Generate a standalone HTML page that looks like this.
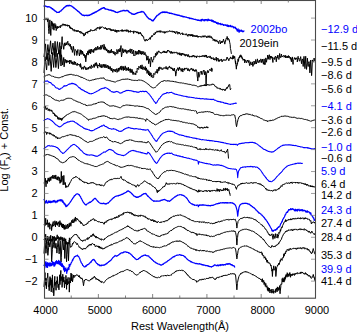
<!DOCTYPE html>
<html><head><meta charset="utf-8"><style>html,body{margin:0;padding:0;background:#fff;width:357px;height:332px;overflow:hidden}</style></head>
<body><svg width="357" height="332" viewBox="0 0 357 332" style="position:absolute;left:0;top:0">
<rect width="357" height="332" fill="#fff"/>
<g fill="none" stroke-linejoin="round" stroke-linecap="round">
<polyline points="44.00,6.05 44.72,5.80 45.58,6.24 45.68,6.02 46.44,6.60 47.36,6.60 47.55,7.01 48.83,6.63 49.04,6.90 49.80,6.93 50.72,7.91 51.06,7.72 52.35,9.00 52.40,8.57 53.63,9.94 54.08,9.98 54.54,10.57 55.38,11.11 55.76,11.47 56.21,11.68 57.03,12.45 57.45,12.37 57.85,12.41 58.93,12.12 59.13,12.40 60.17,11.16 60.81,11.16 61.37,10.29 62.36,9.46 62.49,9.17 63.45,8.44 64.17,7.52 64.63,7.35 65.38,6.53 65.85,6.56 66.48,5.73 67.53,5.74 67.72,5.47 68.89,5.75 69.21,5.30 70.04,5.67 70.89,5.71 71.03,5.93 71.84,6.17 72.57,6.90 73.01,7.03 73.91,7.97 74.00,7.86 74.25,8.16 74.77,8.46 75.72,9.38 75.93,9.40 76.88,10.27 77.61,10.85 77.67,11.05 78.66,11.62 79.29,12.45 79.38,12.17 80.48,13.57 80.97,13.61 81.64,14.62 82.66,15.03 82.69,15.25 83.91,15.26 84.34,15.68 84.80,15.31 85.92,15.38 86.02,15.12 86.97,15.61 87.70,15.24 88.02,15.62 89.00,15.02 89.38,15.41 90.20,14.68 91.06,14.47 91.47,13.96 92.45,13.88 92.74,13.25 93.55,13.33 94.29,12.53 94.42,12.92 95.41,11.94 96.10,12.01 96.50,11.51 97.78,10.94 97.79,10.88 98.98,10.21 99.46,9.72 99.86,9.80 100.79,8.82 101.14,8.96 101.89,8.28 102.60,8.38 103.58,7.62 104.00,7.56 104.38,7.80 105.04,9.00 105.15,8.65 105.89,9.18 106.72,9.08 107.05,9.36 107.82,9.39 108.40,9.84 108.67,9.78 109.61,10.08 110.08,9.91 110.83,10.31 111.58,10.20 111.76,10.76 112.55,10.53 113.45,11.06 113.58,10.87 114.81,11.84 115.13,11.58 116.00,12.42 116.81,12.45 117.22,12.51 118.08,12.19 118.49,12.19 119.03,11.70 119.95,11.62 120.17,11.29 121.18,11.13 121.85,10.91 122.45,10.84 123.25,10.34 123.53,10.66 124.05,10.41 124.89,10.93 125.21,10.80 125.73,10.93 126.72,10.36 126.89,10.46 127.77,10.73 128.57,11.50 128.63,11.23 129.33,12.29 130.25,12.60 130.28,12.79 131.21,13.07 131.93,14.12 132.25,13.77 133.52,14.35 133.61,14.23 134.63,14.31 135.29,13.73 135.64,13.85 136.71,13.18 136.97,13.29 137.82,12.62 138.55,12.68 138.66,12.40 139.79,12.44 140.34,11.88 140.96,12.10 142.02,11.37 142.18,11.81 143.36,11.85 143.70,12.11 144.30,12.88 145.24,14.27 145.38,14.18 146.00,15.32 147.06,16.77 147.08,16.95 147.82,17.49 148.56,18.60 148.74,18.49 149.38,19.07 150.18,19.00 150.42,19.37 151.08,19.57 151.82,20.55 152.10,20.28 152.52,20.85 152.94,20.92 153.31,20.64 153.78,19.59 154.07,19.67 154.99,18.18 155.46,17.80 155.70,17.27 156.93,15.76 157.14,15.44 157.99,15.16 158.78,14.24 158.82,14.61 159.63,13.65 160.00,13.54 160.54,12.88 161.04,12.67 161.46,12.39 162.24,12.58 162.72,11.88 163.44,12.39 164.40,11.95 164.74,12.45 165.72,12.00 166.08,12.46 166.71,12.22 167.46,12.56 167.76,12.43 168.22,12.90 169.13,12.83 169.45,13.33 169.99,13.15 171.13,13.46 171.19,13.23 171.98,13.66 172.69,13.64 172.81,13.90 173.97,14.06 174.49,14.54 174.98,14.20 175.77,14.76 176.17,14.63 176.80,15.02 177.51,14.92 177.85,15.26 178.53,15.22 179.53,15.52 179.82,15.50 181.03,16.23 181.21,15.84 182.15,16.33 182.89,16.25 183.01,16.84 183.93,16.57 184.57,16.86 184.73,16.79 185.89,17.10 186.25,17.06 186.91,17.37 187.93,17.59 188.08,17.78 188.98,17.82 189.61,18.46 189.81,18.01 191.00,18.57 191.29,18.39 192.29,18.87 192.97,18.73 193.50,19.10 194.66,19.31 194.68,19.43 195.88,19.46 196.34,19.88 197.02,19.85 197.85,20.36 198.02,19.96 198.87,20.41 199.70,20.44 199.78,20.57 200.00,20.19 200.81,20.68 201.38,19.57 201.52,20.90 202.50,19.39 203.06,19.85 203.17,19.83 204.09,20.68 204.74,19.60 204.91,20.56 205.57,19.63 206.42,19.83 206.48,19.59 207.13,20.67 207.99,19.31 208.10,20.60 208.66,19.33 209.34,20.30 209.78,20.10 210.20,20.39 211.28,20.14 211.46,21.12 211.97,20.06 212.72,21.53 213.14,20.60 213.69,21.97 214.82,21.56 214.83,22.35 215.78,22.18 216.62,23.23 217.04,22.54 217.78,23.88 218.43,22.98 218.72,23.80 219.53,23.61 220.31,24.07 220.40,23.46 221.02,24.68 221.71,24.19 222.08,24.43 222.51,24.17 223.58,25.34 223.76,24.63 224.31,25.18 225.25,24.79 225.45,25.22 226.23,25.18 227.06,25.95 227.13,24.94 227.98,26.38 228.65,25.45 228.81,26.48 229.31,25.90 230.05,26.27 230.49,25.45 231.05,26.85 231.91,26.28 232.17,26.57 232.71,26.46 233.66,27.76 233.85,26.96 234.53,27.66 235.32,27.25 235.53,28.56 236.37,28.43 236.38,28.64 237.21,30.88 237.39,31.11 238.05,28.98 238.15,29.89 238.89,31.43 239.09,32.20 239.73,29.93 240.00,30.88 240.57,30.99 241.11,31.23 241.41,30.07 242.13,31.23 242.25,30.95 242.92,31.78 243.93,30.91" stroke="#0000ff" stroke-width="1.35"/>
<polyline points="44.00,19.32 44.90,17.91 45.29,18.92 45.81,19.72 46.28,19.54 46.71,18.35 47.16,19.07 47.56,21.36 47.61,21.78 48.07,18.57 48.52,28.36 48.81,31.36 48.97,33.71 49.42,27.86 49.61,24.92 49.87,19.87 50.32,28.10 50.78,35.27 50.78,35.46 51.23,26.21 51.68,20.95 52.04,25.05 52.13,26.27 52.58,22.58 52.78,25.69 53.03,29.25 53.49,23.68 53.69,26.31 53.94,30.21 54.39,24.33 54.84,23.85 54.84,23.42 55.29,28.08 55.64,25.20 55.74,24.61 56.20,30.59 56.65,28.19 56.88,26.98 57.00,27.51 57.10,26.02 57.55,28.54 58.14,26.76 58.45,28.02 59.04,26.23 59.36,26.26 59.77,26.24 60.26,27.93 60.52,25.49 61.16,26.27 61.38,25.49 62.07,26.14 62.37,24.01 62.97,24.30 63.51,23.99 63.87,25.46 64.22,24.06 65.06,25.62 65.68,24.30 65.81,25.80 66.96,24.99 67.49,26.30 67.67,24.75 68.33,25.94 68.39,25.10 68.99,26.24 69.29,25.38 69.83,28.18 70.20,26.73 70.95,28.99 71.10,27.67 72.00,29.16 72.05,28.10 73.08,30.43 73.99,29.33 74.25,31.33 74.25,29.89 75.38,30.47 75.93,29.96 76.19,31.82 76.92,30.18 77.61,31.70 78.06,30.23 79.09,31.91 79.29,31.08 79.73,32.62 80.72,31.32 80.97,33.47 81.56,31.90 82.39,33.68 82.66,32.91 83.20,34.29 83.50,33.51 83.92,36.11 84.34,34.80 84.55,35.38 85.18,33.12 85.33,34.69 86.02,32.12 86.15,32.91 87.30,31.61 87.70,33.35 88.00,31.52 89.15,31.51 89.38,30.75 89.89,31.96 90.71,29.48 91.06,30.50 91.78,30.22 92.74,30.98 92.86,30.17 93.72,31.03 94.38,29.75 94.42,30.44 95.27,29.20 96.10,30.47 96.10,28.09 97.22,28.62 97.78,27.16 97.96,28.35 98.78,27.50 99.46,29.31 99.90,26.71 100.54,28.58 101.14,26.74 101.40,27.59 102.47,26.75 103.51,27.82 104.00,27.50 104.16,28.43 104.81,28.08 105.04,28.87 105.47,27.44 106.60,29.66 106.72,28.01 107.37,29.71 108.40,28.39 108.40,29.13 109.52,28.57 110.08,30.06 110.33,28.63 111.11,31.07 111.76,29.27 112.25,30.81 113.22,29.34 113.45,30.93 113.99,30.11 115.01,31.72 115.13,29.60 115.81,32.03 116.59,30.24 116.81,32.46 117.22,30.21 118.26,31.68 118.49,30.08 119.38,31.36 120.17,30.39 120.35,31.16 121.49,29.96 121.85,31.50 122.14,29.51 122.89,31.47 123.53,30.31 123.78,31.22 124.93,29.80 125.21,31.25 126.07,29.97 126.89,31.67 126.91,29.55 127.67,31.12 128.54,30.35 128.57,32.34 129.43,30.92 130.25,32.38 130.56,30.51 131.29,31.66 131.93,30.99 132.36,31.94 133.39,31.01 133.61,33.44 134.46,31.18 135.29,31.76 135.51,31.04 136.47,32.93 136.97,31.47 137.27,33.18 138.07,31.88 138.66,34.10 138.90,32.26 139.95,33.82 140.34,32.22 140.62,33.96 141.36,33.74 142.02,35.92 142.40,35.01 143.16,37.21 143.70,36.71 143.83,38.77 144.47,40.08 144.54,40.78 145.38,40.73 145.40,41.15 146.21,39.04 146.22,40.17 147.06,39.55 147.37,40.74 148.48,39.33 148.74,39.85 149.64,37.77 150.41,39.33 150.42,37.22 151.09,37.50 151.77,35.57 152.10,36.76 152.67,35.33 153.68,34.76 153.78,33.58 154.55,34.98 155.31,32.21 155.46,33.52 156.16,31.79 157.13,32.30 157.14,30.85 158.12,32.21 159.16,30.62 160.00,32.40 160.78,30.55 161.04,32.35 162.04,31.27 162.72,32.47 163.33,31.58 164.32,33.25 164.40,31.54 165.05,33.16 166.08,31.30 166.31,32.20 167.24,31.31 167.76,32.28 168.48,31.32 169.45,31.43 169.55,30.60 170.75,31.62 171.13,30.82 171.54,31.70 172.71,31.03 172.81,32.28 173.55,31.03 174.49,32.99 174.49,31.53 175.70,33.66 176.17,31.31 176.90,32.58 177.71,31.80 177.85,34.22 178.54,32.10 179.48,33.49 179.53,32.35 180.49,34.48 181.21,33.60 181.42,33.67 182.19,32.74 182.89,35.00 183.04,33.71 184.17,34.50 184.57,34.29 185.41,34.83 186.14,33.58 186.25,35.01 187.17,34.56 187.93,36.40 188.33,34.15 189.05,35.45 189.61,34.30 190.25,36.14 191.03,34.14 191.29,36.03 192.09,34.27 192.97,36.89 193.12,34.73 194.19,36.31 194.66,35.36 195.07,36.98 196.03,35.30 196.34,36.84 197.08,35.37 198.02,37.53 198.03,36.34 199.13,36.68 199.70,35.98 200.10,37.04 201.06,36.48 201.38,37.39 201.77,36.36 202.84,36.99 203.06,35.58 203.84,37.23 204.68,35.65 204.74,36.65 205.84,35.92 206.42,37.72 207.00,36.23 207.98,37.73 208.10,35.70 208.79,37.03 209.77,35.67 209.78,37.67 210.54,36.58 211.31,38.23 211.46,36.60 212.27,38.41 213.03,38.66 213.14,40.59 213.99,39.05 214.82,41.20 215.00,39.55 215.72,41.37 216.80,39.87 217.04,41.81 217.55,41.00 218.69,43.67 218.72,41.86 219.56,40.58 219.86,40.26 220.40,43.99 220.87,41.94 221.24,42.56 221.60,41.21 222.08,42.90 222.60,41.04 222.92,41.56 223.53,39.05 223.76,40.52 224.61,43.08 224.80,44.15 225.45,40.43 225.58,41.28 226.29,38.06 226.79,38.66 227.13,36.43 227.97,40.25 228.09,38.19 228.81,38.89 229.23,39.71 229.65,42.20 230.15,44.43 230.42,48.46 230.82,50.09 231.33,53.50" stroke="#000000" stroke-width="1.0"/>
<polyline points="44.00,56.61 45.55,43.88 46.47,59.55 47.88,44.54 48.98,55.10 50.59,40.81 51.48,53.99 52.96,43.06 54.09,55.34 55.07,41.29 55.94,56.84 57.44,41.68 58.71,54.18 59.73,42.33 60.93,57.19 61.00,46.26 61.50,49.02 62.13,36.67 62.24,43.88 62.80,43.63 63.73,49.34 64.48,42.86 65.00,45.90 66.16,42.55 66.47,44.88 67.84,41.23 68.07,45.11 68.96,43.42 69.41,46.22 70.36,44.17 70.64,47.52 71.20,49.48 71.50,49.69 71.76,46.40 72.42,52.40 72.89,49.54 73.45,49.26 73.48,46.36 74.57,55.37 75.11,49.38 75.69,50.42 76.49,50.99 76.81,55.50 77.91,49.48 77.93,52.33 79.05,53.69 79.44,55.97 80.17,49.73 81.06,54.50 81.29,50.32 82.41,54.21 82.44,51.07 83.84,55.85 84.09,54.02 85.21,58.12 85.23,55.20 85.77,61.84 86.69,53.16 86.89,54.48 88.01,50.87 88.06,55.10 89.13,49.78 89.50,53.15 90.25,49.48 90.58,53.81 91.37,49.00 92.01,52.28 93.28,49.34 93.61,52.62 94.78,48.22 95.77,50.39 95.85,47.10 96.82,50.10 97.76,46.12 98.10,49.54 99.28,47.12 100.00,49.58 100.90,45.32 101.14,49.37 102.32,44.90 103.52,49.25 104.00,44.26 105.04,50.13 105.07,46.78 106.59,51.06 106.72,48.80 107.94,52.57 108.40,50.04 109.05,53.19 110.08,50.39 110.20,53.08 111.44,49.20 111.76,52.75 112.60,51.12 113.45,53.72 113.84,51.25 115.13,55.25 115.25,52.27 116.81,54.12 116.89,49.43 117.84,53.50 118.49,49.41 119.20,51.91 120.14,48.16 120.17,51.84 121.01,45.55 121.14,51.46 121.51,56.95 122.18,52.96 122.68,48.50 123.53,52.89 124.04,49.54 125.21,52.28 125.67,49.61 126.89,53.61 126.92,50.38 127.85,52.46 128.57,50.03 129.06,52.19 130.25,48.84 130.43,53.12 131.93,49.04 132.07,53.92 133.61,50.09 133.75,55.84 134.45,54.94 135.03,55.67 135.29,50.92 136.26,54.59 136.97,51.26 137.25,54.25 138.66,49.99 138.66,54.32 139.74,50.37 140.34,54.10 140.76,51.16 141.69,54.63 142.02,51.10 142.60,54.03 143.70,51.52 144.04,55.01 145.05,52.40 145.38,55.26 146.22,54.87 146.71,60.28 147.06,58.37 147.69,59.85 147.90,55.94 148.74,63.70 149.28,58.77 149.58,60.36 150.29,62.52 150.42,66.81 151.21,57.08 151.26,59.51 152.10,60.38 152.69,62.22 152.94,59.26 153.78,59.44 153.78,56.45 155.27,57.13 155.46,53.38 156.32,55.50 157.14,51.67 157.27,54.40 158.79,50.81 160.00,52.87 161.00,52.51 161.04,53.38 162.28,52.18 162.72,52.93 163.32,50.94 164.27,52.82 164.40,50.91 165.44,52.96 166.08,51.33 166.66,53.08 167.73,50.07 167.76,51.15 168.66,50.19 169.45,52.18 169.63,51.29 170.60,53.43 171.13,51.10 171.74,53.32 172.61,51.93 172.81,53.54 173.55,52.29 174.49,53.07 174.58,52.18 175.51,52.67 176.17,51.90 176.40,53.10 177.58,52.69 177.85,54.42 178.79,52.80 179.53,55.09 179.78,52.76 180.75,55.30 181.21,53.11 181.56,55.58 182.44,53.10 182.89,54.63 183.23,53.49 184.28,55.36 184.57,53.87 185.33,56.21 186.08,54.09 186.25,55.39 187.33,54.91 187.93,56.83 188.22,54.40 189.43,57.25 189.61,55.95 190.63,57.10 191.29,55.88 191.91,57.18 192.73,55.43 192.97,56.72 193.69,55.13 194.66,57.22 194.93,55.77 195.64,56.65 196.34,55.95 196.37,58.02 197.41,55.78 198.02,56.72 198.41,56.56 199.66,57.04 199.70,55.84 200.82,56.96 201.38,55.81 201.85,56.89 203.06,55.14 203.15,56.67 204.16,55.50 204.74,57.08 205.16,54.95 206.28,57.21 206.42,54.99 207.21,57.95 208.10,56.50 208.12,57.13 209.18,56.54 209.78,57.75 210.09,55.90 211.36,59.08 211.46,57.64 212.47,58.52 213.14,57.50 213.48,59.92 214.24,58.58 214.82,60.23 215.17,58.75 216.00,59.79 216.20,57.08 216.74,61.23 217.04,59.27 217.70,59.06 217.88,58.02 218.70,61.47 218.72,59.67 219.42,61.37 219.56,59.81 220.20,60.50 220.40,59.65 221.24,60.40 221.48,58.96 222.08,61.90 222.65,60.22 223.76,60.22 223.91,59.29 224.99,60.70 225.45,59.84 226.18,60.30 227.13,57.01 227.41,58.77 228.64,59.06 228.81,60.85 229.36,58.40 230.44,58.33 230.49,56.92 231.30,58.67 232.17,57.65 232.41,59.21 233.01,55.38 233.27,58.77 233.85,55.96 234.30,58.14 234.69,56.50 235.53,63.81 235.55,60.86 236.37,69.17 236.63,65.51 236.87,66.05 237.21,63.14 237.48,64.26 238.05,58.87 238.49,61.40 238.89,57.48 239.45,58.08 239.73,55.67 240.57,57.13 240.72,54.81 241.41,57.41 241.59,55.83 242.25,58.90 242.47,57.73 243.09,60.34 243.56,59.22 243.93,60.08 244.34,59.06 244.77,62.95 245.39,59.84 245.61,60.41 246.45,62.37 246.67,62.86 247.29,60.00 247.67,60.99 248.13,60.55 248.53,62.49 248.97,60.36 249.51,65.54 249.82,65.63 250.54,62.86 250.66,61.79 251.32,64.56 251.50,63.94 252.10,64.80 252.34,61.88 252.88,66.42 253.18,64.73 253.75,64.97 254.02,60.99 254.70,64.11 254.86,64.14 255.57,62.83 255.70,59.53 256.42,63.99 256.54,62.38 257.17,61.98 257.38,58.87 258.20,62.82 258.22,61.98 259.06,61.35 259.40,59.97 259.90,62.46 260.47,59.58 260.74,58.89 261.51,60.43 261.58,62.60 262.42,59.03 262.60,61.15 263.26,63.26 263.42,64.26 264.10,58.88 264.55,64.31 264.94,64.95 265.52,62.79 265.78,57.89 266.55,62.23 266.62,60.93 267.46,57.79 267.62,55.13 268.30,59.28 268.60,56.83 269.14,54.74 269.49,54.88 269.98,59.62 270.33,56.00 270.82,58.04 271.17,56.14 272.08,58.41 272.17,56.89 272.92,62.48 273.10,59.53 273.76,58.34 274.15,57.50 274.61,59.50 274.86,57.71 275.45,56.11 275.77,57.01 276.29,61.79 276.99,56.77 277.13,58.16 277.83,55.04 277.97,56.19 278.81,57.67 278.87,59.48 279.65,53.46 279.86,57.15 280.49,56.76 280.73,57.71 281.33,54.05 282.02,57.01 282.17,56.37 282.90,56.42 283.85,55.28 284.07,57.26 284.86,55.67 285.53,57.80 285.60,55.39 286.82,57.84 287.21,55.94 287.79,57.95 288.52,55.57 288.89,57.84 289.46,56.40 290.42,59.21 290.57,57.29 291.41,61.78 291.56,58.43 292.25,58.56 292.33,56.91 293.09,64.43 293.16,60.87 293.93,59.53 294.44,57.59 294.77,58.84 295.58,57.86 295.61,59.66 296.38,57.83 296.45,58.74 297.28,59.15 297.29,61.91 298.13,56.29 298.19,59.13 298.97,58.18 299.29,61.15 299.82,60.91 300.36,58.37 300.66,56.64 301.50,63.70 301.57,62.25 302.34,58.91 302.77,60.86 303.18,66.48 303.78,57.84 304.02,56.34 304.86,67.50 304.92,68.63 305.70,56.27 306.07,63.22 306.54,69.41 307.22,62.27 307.38,58.16 308.21,66.49 308.22,63.64 309.06,61.61 309.38,63.83 309.90,72.90 310.50,61.96 310.74,60.08 311.58,75.63 311.75,73.98 312.42,59.92 312.53,61.41 313.26,61.74 313.75,61.65 314.10,58.04 314.45,60.56 314.94,61.02" stroke="#000000" stroke-width="1.0"/>
<polyline points="44.00,72.59 45.02,56.69 46.59,70.04 47.88,53.06 48.80,65.49 49.91,54.61 51.18,71.38 52.36,52.51 53.66,67.46 54.78,51.50 55.86,67.55 57.33,53.33 58.42,68.63 59.83,49.68 61.00,66.02 61.50,54.82 62.62,65.07 63.72,57.46 64.10,66.84 65.00,59.07 66.23,63.12 66.80,59.96 67.86,62.46 69.50,60.02 69.60,64.00 70.90,60.14 71.99,64.04 72.30,61.81 73.09,64.78 74.21,61.29 75.00,64.93 75.46,61.98 76.55,65.35 77.62,63.28 77.70,65.44 79.12,64.01 80.40,67.32 80.53,63.56 81.67,69.32 83.10,66.92 83.36,69.35 84.44,65.90 85.79,69.69 85.80,67.29 86.82,69.89 88.41,67.08 88.50,69.21 90.00,66.19 91.11,68.77 91.30,64.86 92.61,67.55 94.00,64.19 94.16,67.53 95.29,62.86 96.00,66.11 96.46,62.60 97.75,68.17 97.78,64.79 99.35,66.32 99.46,63.18 100.39,67.29 101.14,64.36 101.83,68.02 103.21,64.03 104.00,67.32 104.47,64.48 105.04,67.94 105.83,64.39 106.72,67.85 107.43,65.24 108.40,68.98 108.51,65.72 110.08,69.44 110.11,66.43 111.30,70.96 111.76,68.08 112.81,72.37 113.45,69.08 114.40,71.28 115.13,69.09 115.45,71.80 116.81,68.56 117.03,72.41 118.49,67.98 118.72,71.45 119.86,67.55 120.17,69.56 120.79,66.21 121.79,70.23 121.85,65.91 123.46,70.54 123.53,66.51 124.38,69.88 125.21,65.88 126.00,70.64 126.89,67.60 127.02,70.43 128.51,67.27 128.57,70.82 129.49,68.84 130.25,72.57 130.54,68.76 131.93,72.80 131.98,69.26 132.96,74.49 133.61,71.83 134.13,74.52 135.29,73.13 135.76,74.81 136.13,71.19 136.97,72.54 137.23,67.99 138.66,69.53 138.83,66.20 140.34,68.35 140.50,65.40 141.44,69.05 142.02,64.80 142.53,69.41 143.70,66.76 144.06,69.88 145.38,66.54 145.50,70.43 146.44,67.89 147.06,73.46 147.75,69.77 148.74,75.00 148.84,71.03 149.58,75.94 150.09,72.47 150.42,75.30 151.08,72.91 151.26,77.16 152.00,74.85 152.10,77.04 152.94,77.73 153.69,77.27 153.78,73.27 154.84,74.56 155.46,71.67 156.44,72.75 157.14,69.20 157.44,73.29 158.73,67.39 158.82,70.83 159.75,66.82 160.00,68.77 161.04,67.32 161.26,69.28 162.16,68.38 162.72,69.66 163.37,67.87 164.40,68.38 164.59,67.63 165.58,68.40 166.08,66.41 166.37,69.13 167.13,67.52 167.76,69.59 168.35,67.31 169.12,67.59 169.45,65.96 170.12,68.02 171.13,67.26 171.14,69.03 171.91,67.83 172.81,70.36 172.90,68.34 173.69,70.90 174.49,68.21 174.72,71.09 175.33,71.09 175.72,76.11 175.83,75.29 176.50,71.40 176.64,69.47 177.46,69.24 177.85,67.64 178.40,70.76 178.69,68.55 179.22,69.27 179.53,66.98 180.00,69.54 180.84,68.74 181.21,71.36 182.06,68.35 182.89,72.06 183.07,68.73 184.30,70.31 184.57,67.93 185.01,69.39 186.25,67.88 186.28,68.92 187.27,68.42 187.93,70.96 188.44,68.62 189.49,71.23 189.61,69.77 190.60,69.73 191.29,67.99 191.44,69.31 192.59,68.96 192.97,71.07 193.38,68.86 194.24,71.05 194.66,69.99 194.96,71.69 195.89,69.37 196.34,70.04 196.90,71.99 197.18,76.04 197.68,78.88 197.78,81.05 198.35,72.20 199.01,77.33 199.36,75.06 199.76,75.25 200.03,71.88 200.81,71.94 201.38,71.11 201.65,74.39 202.22,74.22 202.71,74.27 203.06,70.73 203.88,71.10 203.90,70.04 204.74,75.05 205.00,71.33 205.58,71.81 205.74,75.66 206.08,85.81 206.59,74.14 206.76,73.11 207.65,70.45 208.10,72.98 208.94,70.56 209.66,69.87 209.78,69.22 210.73,70.69 211.46,67.89 211.85,71.57 212.30,68.89" stroke="#000000" stroke-width="1.0"/>
<polyline points="44.00,76.42 44.74,75.76 45.64,75.89 46.52,75.15 46.71,75.37 47.94,74.89 48.93,74.70 49.04,74.49 50.02,75.18 50.84,75.41 51.69,76.19 52.40,76.02 52.93,76.57 53.86,76.53 54.62,77.16 55.68,77.15 55.76,77.46 56.45,77.44 57.27,77.60 58.25,77.72 59.13,77.98 59.30,77.76 60.38,77.46 61.50,76.90 62.47,77.03 62.49,76.51 63.21,76.49 64.34,75.75 65.08,75.71 65.85,75.31 66.06,75.39 67.00,74.95 68.10,75.01 69.21,74.39 69.23,74.75 70.07,74.30 70.89,74.49 71.16,74.14 72.28,74.80 73.26,74.74 74.05,75.24 74.25,74.94 75.29,75.51 76.35,75.22 77.09,75.80 77.61,75.60 77.93,75.80 79.22,76.27 80.06,76.97 80.97,76.98 81.00,77.26 82.17,77.35 83.36,78.20 84.34,78.32 84.44,78.47 85.59,78.96 86.31,79.69 87.07,79.63 87.70,80.27 88.35,80.17 89.38,80.79 89.54,80.67 90.26,80.54 90.99,80.18 91.83,80.27 92.74,79.81 93.09,80.06 93.92,79.51 95.03,79.40 96.10,78.84 96.28,79.09 97.37,78.69 98.62,78.71 99.46,78.33 99.48,78.45 100.27,78.08 100.98,78.29 102.13,77.97 102.89,78.25 104.00,77.80 104.18,78.21 105.04,79.48 105.31,79.75 106.12,79.77 106.72,80.27 107.30,80.04 108.10,80.62 108.40,80.37 109.11,80.75 109.87,80.47 110.08,80.80 111.04,80.99 111.76,81.37 112.28,81.34 113.45,81.88 113.53,81.56 114.23,81.91 115.13,82.03 115.44,82.07 116.47,81.34 116.81,81.30 117.66,80.85 118.49,80.76 118.67,80.63 119.74,80.34 120.17,79.93 120.80,80.18 121.85,79.40 121.97,79.54 122.72,79.31 123.45,79.48 123.53,79.06 124.48,79.41 125.21,78.80 125.36,79.33 126.29,79.01 126.89,79.36 127.00,78.91 128.15,79.12 128.57,78.99 128.86,79.42 130.06,79.43 130.25,79.57 131.24,79.77 131.93,80.37 132.22,79.99 132.99,80.51 133.61,80.36 134.08,80.54 134.91,80.30 135.29,80.45 135.86,80.22 136.63,80.50 136.97,80.35 137.92,80.53 138.66,79.92 138.94,80.11 139.85,80.04 140.34,80.27 140.61,79.97 141.75,80.33 142.02,80.26 142.96,81.11 143.70,81.09 144.17,81.54 144.93,81.71 145.38,82.27 145.85,82.28 146.73,83.19 147.06,83.21 147.89,84.32 148.68,84.36 148.74,84.88 149.74,85.49 150.42,86.58 151.03,86.64 152.10,87.52 152.19,87.32 152.89,87.99 153.64,87.88 153.78,88.02 154.41,87.62 155.46,87.25 155.52,87.01 156.58,86.05 157.14,85.24 157.59,85.17 158.57,83.76 158.82,83.88 159.51,83.08 160.00,82.90 160.58,82.01 161.04,81.80 161.67,81.42 162.72,81.40 162.92,80.93 164.06,80.99 164.40,80.47 165.24,80.93 166.08,80.66 166.48,81.01 167.69,80.66 167.76,81.06 168.81,80.81 169.45,81.13 169.53,80.82 170.64,81.28 171.13,81.12 171.85,81.41 172.81,81.22 172.81,81.40 174.04,81.54 174.49,81.78 174.84,81.59 176.11,82.05 176.17,81.91 177.08,82.33 177.85,82.28 178.20,82.66 179.05,82.46 179.53,82.78 179.93,82.71 180.84,82.90 181.21,82.66 181.74,83.06 182.49,83.12 182.89,83.42 183.46,83.15 184.57,83.71 184.75,83.42 185.84,83.74 186.25,83.70 187.10,84.11 187.93,83.96 188.26,84.28 189.46,84.16 189.61,84.64 190.75,84.43 191.29,85.08 191.91,84.80 192.77,85.37 192.97,84.98 193.62,85.23 194.57,85.18 194.66,85.46 195.28,85.54 196.12,85.81 196.34,85.69 197.35,86.70 198.02,86.55 198.60,86.74 199.50,86.19 199.70,86.56 200.00,85.60 201.18,86.47 201.38,85.40 202.16,85.72 203.06,85.25 203.36,86.02 204.13,84.79 204.74,85.89 204.90,84.45 205.94,86.05 206.42,84.95 206.94,85.06 207.77,84.19 208.10,85.32 208.62,84.62 209.33,85.44 209.78,84.57 210.58,84.91 211.46,84.32 211.70,85.06 212.97,83.80 213.14,84.32 214.26,84.68 215.22,86.64 216.36,86.67 217.29,88.46 217.69,87.57 218.48,88.34 219.68,88.30 220.10,89.41 220.46,88.33 221.17,89.65 222.00,89.08 222.51,90.30 223.05,88.92 223.98,89.94 224.68,89.58 224.92,90.90 225.88,88.83 226.12,89.14 227.05,87.13 227.33,88.43 228.03,86.31 228.53,86.46 228.76,84.79 229.13,84.58 229.73,84.58 229.99,87.28 230.34,89.78 230.94,88.95" stroke="#000000" stroke-width="1.0"/>
<polyline points="44.00,82.20 44.86,81.29 45.58,81.18 45.68,80.92 46.36,81.28 47.31,80.85 47.36,81.07 48.26,81.51 49.01,82.33 49.04,81.99 50.05,82.62 50.72,82.46 51.32,83.40 52.37,84.60 52.40,84.87 53.28,84.87 54.08,85.54 54.40,85.67 55.37,87.18 55.76,87.52 56.17,87.95 57.16,87.92 57.45,88.15 57.87,88.28 58.98,89.43 59.13,89.03 59.77,89.35 59.97,89.12 60.69,88.77 60.81,88.25 61.97,88.09 62.49,87.27 63.13,87.00 64.17,85.67 64.33,86.17 65.42,85.83 65.85,86.03 66.50,85.48 67.53,85.17 67.62,84.89 68.90,84.21 69.21,83.91 69.72,84.21 70.88,83.60 70.89,83.92 71.73,83.19 71.76,83.67 72.57,83.30 72.61,83.70 73.81,83.55 74.25,84.23 74.87,84.01 75.93,84.97 76.08,84.62 77.30,85.91 77.61,85.91 78.36,87.09 79.17,87.72 79.29,88.11 79.88,87.85 80.13,88.06 80.90,88.93 80.97,89.36 81.82,89.42 82.04,90.04 82.66,89.87 82.90,90.26 83.64,90.35 84.34,91.18 84.35,90.76 85.15,91.56 86.02,91.75 86.27,92.20 86.97,92.11 87.70,92.76 87.81,92.58 88.67,93.36 89.38,93.25 89.80,93.83 91.06,93.73 91.09,93.90 91.80,93.57 92.57,93.52 92.74,93.37 93.83,92.91 94.42,92.41 95.11,92.34 95.90,91.85 96.10,91.79 96.80,91.23 97.78,90.99 97.81,90.79 98.71,90.42 99.46,89.55 99.66,89.97 100.64,88.96 101.14,88.96 101.50,88.44 102.23,88.65 102.98,88.09 103.78,88.38 104.00,87.99 104.53,88.11 105.04,87.42 105.61,87.77 106.72,87.92 106.73,88.36 107.58,88.54 108.40,89.41 108.76,89.39 109.90,90.60 110.08,90.26 110.80,91.07 111.76,91.68 111.80,91.90 112.61,91.70 113.45,92.34 113.87,91.99 114.90,92.13 115.13,91.76 115.63,91.87 116.43,91.40 116.81,91.68 117.54,91.62 118.47,92.13 118.49,91.97 119.60,93.06 120.17,92.92 120.44,93.15 121.62,92.62 121.85,92.87 122.80,91.93 123.53,91.84 123.56,91.53 124.61,91.57 125.21,90.82 125.42,90.99 126.55,90.35 126.89,90.75 127.73,90.37 128.57,90.53 128.91,90.37 129.74,90.79 130.25,90.54 130.50,90.83 131.60,90.73 131.93,91.16 132.64,91.10 133.42,91.71 133.61,91.18 134.24,91.75 135.28,91.57 135.29,91.83 136.05,91.69 136.97,92.29 137.13,91.91 137.97,92.40 138.66,92.01 138.83,92.36 139.78,91.62 140.00,91.59 140.80,91.38 141.94,91.70 142.66,91.10 143.32,91.59 143.79,91.17 144.62,91.71 145.50,91.33 146.58,91.63 146.63,91.43 147.70,92.93 148.77,93.61 149.12,94.28 150.01,95.19 150.83,96.45 151.61,97.29 151.72,97.73 152.81,99.12 153.67,100.58 154.10,101.20 154.47,101.76 155.30,102.47 155.75,103.45 156.46,102.85 156.58,102.95 157.66,100.80 158.24,99.94 158.79,99.00 160.06,97.76 160.73,96.51 161.24,96.25 162.13,94.98 163.02,94.53 163.22,93.90 164.15,93.99 164.88,93.42 165.95,93.41 166.53,92.68 166.70,92.91 167.43,92.60 168.44,92.89 169.23,92.64 170.49,92.58 171.72,92.24 172.01,92.65 172.69,92.98 172.81,93.27 173.51,93.23 174.28,94.05 174.49,93.70 175.29,94.29 176.17,94.23 176.30,94.39 177.22,94.51 178.35,94.97 179.37,94.93 179.53,95.23 180.53,95.34 181.29,95.64 182.04,95.73 182.89,96.03 182.97,95.90 183.96,96.30 184.81,96.21 185.91,96.59 186.25,96.36 186.74,96.91 187.63,96.63 188.62,97.28 189.61,97.03 189.75,97.23 190.91,97.19 191.83,97.53 192.80,97.58 192.97,97.67 194.06,97.64 195.32,98.34 196.34,98.05 196.39,98.28 197.15,98.13 198.13,98.45 199.21,98.27 199.70,98.62 200.08,98.49 200.80,98.90 202.09,98.59 203.06,98.83 203.33,98.63 204.11,99.13 205.09,98.84 206.16,99.20 206.42,98.77 207.04,99.19 207.78,99.02 208.93,99.35 209.78,99.19 210.09,99.56 211.06,99.15 211.81,99.66 212.75,99.29 213.14,99.46 213.50,99.27 214.78,100.31 215.51,100.20 216.38,100.96 217.04,100.93 217.54,101.49 218.32,101.26 218.72,101.65 219.09,101.54 219.83,101.77 220.40,101.63 220.63,102.17 221.65,102.09 222.08,102.30 222.85,102.30 223.65,102.83 223.76,102.60 224.46,103.21 225.45,103.11 225.61,103.41 226.57,103.19 227.13,103.75 227.47,103.52 228.25,103.98 228.81,103.94 229.09,104.30 230.38,104.15 230.49,104.46 231.15,104.08 232.00,104.05 232.17,103.78 233.15,103.99 233.85,103.40 234.38,103.52 235.53,103.11 235.62,103.48 236.37,103.15" stroke="#0000ff" stroke-width="1.05"/>
<polyline points="44.00,95.30 45.29,94.83 45.68,95.02 46.41,94.83 47.30,95.34 47.36,95.10 48.45,95.99 49.04,95.97 49.31,96.18 50.38,96.54 50.72,96.88 51.17,97.14 52.39,98.38 52.40,97.91 53.38,98.95 54.08,99.26 54.24,99.64 55.50,99.98 55.76,100.31 56.25,100.10 57.45,100.65 57.51,100.48 58.66,100.89 59.13,100.88 59.45,101.26 60.61,100.34 60.81,100.54 61.65,100.21 62.49,100.34 62.90,100.04 63.95,100.11 64.17,99.71 64.90,99.67 65.85,98.75 66.16,99.02 66.92,98.20 67.53,98.32 68.08,98.12 68.84,98.32 69.21,98.12 69.71,98.49 70.48,98.23 70.89,98.69 71.70,98.65 72.57,99.34 72.67,99.20 73.80,100.22 74.25,100.14 74.66,100.48 75.79,100.93 75.93,101.21 76.88,101.31 77.61,101.97 77.64,101.68 78.64,102.18 79.29,102.01 79.77,102.57 80.60,102.73 80.97,103.35 81.69,103.48 82.56,103.86 82.66,103.69 83.48,104.42 84.34,104.21 84.73,104.62 86.00,104.99 86.02,105.46 87.30,105.44 87.70,105.68 88.25,105.27 89.30,105.23 89.38,105.20 90.48,105.11 91.06,104.66 91.64,105.05 92.61,104.33 92.74,104.69 93.83,103.85 94.42,104.17 94.77,103.65 96.04,103.88 96.10,103.37 97.02,103.40 97.78,102.55 97.79,102.75 98.94,102.21 99.46,102.35 99.73,102.05 100.84,102.04 101.14,101.72 101.57,102.10 102.86,102.00 103.89,102.27 104.00,102.06 105.03,103.36 105.04,103.09 105.81,103.96 106.72,104.32 106.89,104.64 107.82,104.85 108.40,105.48 108.67,105.17 109.86,106.21 110.08,105.92 110.58,106.14 111.56,105.82 111.76,106.23 112.32,105.85 113.45,105.82 113.53,105.63 114.76,106.23 115.13,105.85 115.48,106.40 116.46,106.54 116.81,106.97 117.44,106.91 118.49,107.35 118.58,107.18 119.71,107.72 120.17,107.55 120.62,107.67 121.85,106.50 121.88,106.62 122.69,105.86 123.47,105.81 123.53,105.38 124.66,105.54 125.21,105.04 125.43,105.26 126.24,104.99 126.89,105.00 127.24,104.94 128.15,105.46 128.57,105.08 128.94,105.44 130.20,104.97 130.25,105.49 131.19,105.34 131.93,105.66 132.36,105.56 133.21,105.95 133.61,105.53 134.46,106.05 135.29,105.96 135.29,106.14 136.53,105.93 136.97,106.30 137.60,105.83 138.66,106.35 138.88,105.91 140.04,106.62 140.34,106.45 141.12,106.66 142.02,106.32 142.14,106.64 143.36,106.78 143.70,106.99 144.32,106.98 145.08,107.88 145.38,107.65 146.33,108.31 147.06,108.02 147.51,108.57 148.62,108.81 148.74,109.18 149.77,109.85 150.42,110.63 150.61,110.52 151.59,111.67 152.10,111.84 152.78,112.68 153.78,113.21 154.06,113.48 155.31,114.25 155.46,114.59 156.11,114.26 157.14,114.08 157.22,113.71 158.25,113.29 158.82,112.61 159.19,112.73 159.99,111.89 160.00,111.94 160.78,110.52 161.04,110.47 161.76,109.61 162.72,108.98 162.75,108.68 163.62,108.60 164.40,107.67 164.54,107.90 165.57,107.24 166.08,107.34 166.72,107.09 167.76,107.00 167.78,106.73 168.58,106.94 169.45,106.43 169.81,106.60 170.73,106.50 171.13,106.66 172.00,106.63 172.81,107.02 173.29,106.79 174.08,107.25 175.13,107.23 176.17,107.82 176.41,107.58 177.34,108.11 178.37,108.14 179.25,108.63 179.53,108.56 179.97,108.89 180.79,108.50 181.57,108.87 182.44,108.67 182.89,109.08 183.52,108.76 184.56,109.18 185.82,109.25 186.25,109.49 186.94,109.36 187.85,109.92 189.12,109.64 189.61,110.11 190.20,109.94 191.23,110.52 192.45,110.46 192.97,110.68 193.55,110.49 194.46,110.97 195.53,110.73 196.34,111.12 196.41,111.19 197.18,113.69 197.69,113.10 198.02,112.81 198.53,112.60 199.70,112.40 199.82,112.15 200.56,112.36 201.26,112.04 202.30,112.25 203.06,111.81 203.12,112.27 204.12,111.78 204.89,111.93 206.10,111.51 206.42,111.73 207.20,111.46 208.31,111.86 209.56,111.70 209.78,112.06 210.86,112.12 211.97,112.69 213.09,112.62 213.14,112.87 213.80,113.41 214.53,114.49 214.82,114.36 215.48,114.49 216.76,114.29 217.04,114.64 217.65,114.56 218.69,115.06 218.72,114.75 219.40,115.21 220.35,115.18 220.40,115.63 221.59,115.44 222.08,115.77 222.64,115.59 223.76,115.86 223.84,115.45 224.54,115.63 225.37,115.21 225.45,115.38 226.17,115.10 227.13,115.45 227.37,115.09 228.13,115.43 228.81,115.11 229.39,115.30 230.25,115.24 230.49,115.63 231.48,114.93 232.17,115.19 232.49,114.74 233.38,114.76 233.85,114.41 234.66,115.33 234.69,115.14 235.53,118.90 235.61,119.38 236.03,123.92 236.54,126.69 236.73,125.86 237.21,122.82 237.47,122.01 238.05,119.42 238.66,117.84 238.89,116.94 239.95,116.29 240.00,115.87 240.57,115.70 240.58,115.52 241.35,115.66 242.25,114.77 242.29,115.26 243.12,114.42 243.90,114.75 243.93,114.38 244.88,114.48 245.61,113.83 245.73,114.39 246.45,113.77 247.20,114.14 247.29,113.79 248.22,114.53 248.97,113.83 249.19,114.49 250.19,114.32 250.66,114.76 251.02,114.55 251.65,115.22 252.29,114.60 252.34,115.32 253.03,115.14 253.93,116.02 254.02,115.57 254.49,116.19 255.43,115.87 255.70,116.14 256.37,116.02 257.18,116.80 257.38,116.35 257.74,117.13 258.68,116.97 259.06,117.74 259.44,117.47 260.32,118.52 260.74,118.20 261.16,118.50 262.06,118.73 262.42,119.02 262.82,119.21 263.84,120.16 264.10,119.96 264.86,120.38 265.78,120.57 265.87,120.84 266.72,120.63 267.43,121.62 267.46,120.87 268.18,121.46 268.86,120.60 269.14,121.07 269.86,120.43 270.80,120.80 270.82,120.05 271.74,120.70 272.00,120.27 272.08,120.37 272.89,119.92 273.46,120.28 273.76,119.83 274.11,120.14 274.70,119.40 275.45,119.27 275.65,118.78 276.28,118.97 276.95,118.26 277.13,118.40 277.54,117.80 278.22,117.77 278.81,117.10 279.14,117.51 280.04,116.75 280.49,116.92 281.04,116.36 282.05,116.26 282.17,116.07 282.88,116.52 283.85,116.03 283.88,116.34 284.48,115.99 285.49,116.15 285.53,115.92 286.25,116.43 286.91,115.89 287.21,116.28 287.83,116.26 288.80,116.75 288.89,116.43 289.54,117.03 290.15,116.78 290.57,117.18 291.13,117.04 292.05,117.64 292.25,117.18 292.90,117.51 293.93,117.09 293.93,117.39 294.50,117.28 295.09,117.80 295.61,117.59 295.71,117.88 296.28,117.94 297.18,118.54 297.29,118.18 298.04,118.47 298.66,118.16 298.97,118.41 299.29,118.26 299.94,118.51 300.66,118.43 300.79,118.76 301.68,118.42 302.34,118.88 302.70,118.56 303.44,119.13 304.02,118.96 304.46,119.44 305.23,119.27 305.70,119.84 305.98,119.36 306.66,120.06 307.33,119.76 307.38,120.17 308.36,120.21 309.06,121.05 309.40,120.72 310.30,121.08 310.74,121.06 310.94,121.32 311.59,120.88 312.22,120.82 312.42,120.43 312.95,120.62 313.86,120.05 314.10,120.07 314.45,119.98 314.94,120.41" stroke="#000000" stroke-width="1.0"/>
<polyline points="44.00,107.63 44.84,108.40 44.87,109.69 45.61,106.18 45.68,107.53 46.40,108.53 46.52,109.51 46.99,107.75 47.36,107.94 47.86,108.81 48.20,110.66 48.75,109.09 49.04,109.46 49.38,109.20 49.88,111.21 50.21,110.08 50.72,110.04 51.12,109.84 51.56,111.37 51.73,110.21 52.40,111.65 52.69,111.84 53.24,113.93 53.67,112.87 54.08,114.12 54.26,113.57 54.92,115.79 54.93,114.34 55.53,116.23 55.76,115.29 56.22,116.58 56.61,115.70 56.82,116.66 57.45,116.51 57.61,118.67 58.29,117.67 58.29,119.51 59.00,117.50 59.13,118.82 59.78,118.53 59.97,119.88 60.52,117.95 60.81,119.45 61.45,118.53 61.65,120.55 62.36,118.27 62.49,119.26 62.98,117.53 63.64,117.77 64.17,116.88 64.27,117.17 65.08,116.04 65.85,115.93 66.02,115.35 67.25,114.71 67.53,114.42 68.20,114.32 69.21,113.56 69.30,113.69 70.33,113.03 70.89,112.83 71.31,112.39 72.35,112.12 72.57,111.73 73.20,111.92 74.23,111.39 74.25,111.70 75.45,111.77 75.93,112.07 76.20,112.06 77.12,112.68 77.61,112.68 78.35,113.00 79.29,113.07 79.64,113.55 80.34,113.70 80.97,114.29 81.42,114.25 82.50,115.26 82.66,115.29 83.71,116.17 84.34,116.46 84.69,117.09 85.47,117.31 86.02,117.90 86.35,117.98 87.47,119.18 87.70,118.90 88.54,120.35 88.61,119.74 89.38,119.54 89.44,119.27 90.52,119.16 91.06,118.82 91.61,119.16 92.71,118.49 92.74,118.85 93.42,118.32 94.39,118.38 94.42,118.19 95.28,118.15 96.10,117.72 96.34,117.76 97.24,117.07 97.78,117.18 98.02,116.74 99.12,116.93 99.46,116.49 99.99,116.80 101.14,115.94 101.17,116.33 102.05,115.89 103.08,116.12 104.00,115.54 104.26,115.79 105.03,116.05 105.04,116.38 106.17,116.25 106.72,116.86 106.91,116.55 108.17,117.55 108.40,117.12 108.89,117.76 110.02,118.17 110.08,118.59 110.94,118.41 111.75,118.69 111.76,118.50 112.69,118.75 113.45,118.26 113.69,118.61 114.64,118.34 115.13,118.70 115.41,118.68 116.43,119.09 116.81,118.91 117.31,119.47 118.49,119.25 118.59,119.62 119.52,118.99 120.17,119.21 120.48,118.83 121.31,118.87 121.85,118.28 122.60,118.12 123.49,117.72 123.53,117.82 124.58,117.38 125.21,117.46 125.78,116.96 126.71,117.16 126.89,116.77 127.87,117.25 128.57,116.83 128.73,117.09 129.50,117.09 130.22,117.48 130.25,117.21 131.19,117.54 131.93,117.19 132.42,117.42 133.24,117.16 133.61,117.66 134.20,117.44 135.29,117.93 135.36,117.81 136.23,117.85 136.97,117.80 137.02,117.98 138.03,117.93 138.66,118.56 138.99,118.08 140.25,118.61 140.34,118.18 141.49,118.75 142.02,118.65 142.33,118.85 143.37,118.86 143.70,119.21 144.32,119.47 145.04,120.25 145.38,120.24 145.71,121.35 146.00,119.83 146.22,119.03 147.06,118.81 147.25,119.43 148.13,119.71 148.74,120.38 149.19,120.55 150.31,121.90 150.42,121.44 151.05,122.39 152.10,122.85 152.31,123.27 153.07,123.18 153.78,123.79 153.95,123.61 155.08,125.03 155.46,124.82 155.79,124.93 156.72,124.15 157.14,124.17 157.49,123.72 158.48,123.37 158.82,122.71 159.19,122.71 159.98,121.90 160.00,122.34 160.81,121.62 161.04,122.00 161.56,121.23 162.31,121.26 162.72,120.67 163.13,120.67 164.14,119.97 164.40,120.25 164.92,119.61 166.08,119.71 166.12,119.38 167.07,119.72 167.76,119.37 167.92,119.74 168.76,119.26 169.45,119.50 169.97,119.52 170.69,120.05 171.13,119.82 171.84,120.32 172.60,120.27 172.81,120.56 173.87,120.25 174.81,120.62 175.87,120.55 176.17,120.75 177.09,120.64 177.85,121.11 178.59,120.89 179.53,121.29 179.70,121.08 180.75,121.82 181.89,121.57 182.75,122.32 182.89,121.96 183.75,122.41 184.56,122.34 185.53,122.80 186.25,122.66 186.39,122.94 187.45,122.90 188.32,123.44 189.19,123.07 189.61,123.37 190.28,123.43 191.03,123.82 192.21,123.65 192.97,124.09 193.21,123.90 194.04,124.49 194.66,124.40 194.81,124.94 195.82,125.10 196.00,125.47 196.34,125.29 196.69,125.84 197.41,126.28 198.02,127.62 198.08,126.77 198.78,127.54 199.62,127.41 199.70,128.30 200.12,127.69 201.00,128.16 201.38,126.94 201.57,127.63 202.08,127.08 202.89,128.50 203.06,127.77 203.62,127.73 204.34,127.03 204.74,128.06 204.92,127.30 205.74,127.81 206.36,126.64 206.42,127.57 207.15,126.74 207.74,128.11 208.10,127.31" stroke="#000000" stroke-width="1.0"/>
<polyline points="44.00,120.34 45.20,119.52 45.68,119.59 46.45,119.06 47.34,118.71 47.36,118.57 48.45,118.92 49.04,118.95 49.56,119.39 50.72,119.86 50.77,120.19 51.81,120.69 52.40,121.36 52.68,121.26 53.53,122.55 54.08,122.77 54.55,123.65 55.33,123.91 55.76,124.73 56.55,124.97 57.45,125.83 57.78,125.88 58.63,126.73 59.13,126.57 59.75,127.01 59.97,126.83 60.81,126.53 60.85,126.18 61.62,125.89 62.49,124.98 62.79,124.99 63.95,123.67 64.17,123.82 64.83,123.24 65.59,123.22 65.85,122.81 66.46,122.77 67.53,121.91 67.63,122.34 68.61,121.76 69.21,121.93 69.80,121.50 70.59,121.36 70.89,121.15 71.36,121.23 72.26,121.05 72.57,121.24 73.49,121.26 74.25,121.71 74.29,121.55 75.03,122.53 75.93,122.83 76.19,123.11 76.94,123.37 77.61,124.20 78.04,124.06 78.79,124.86 79.29,124.94 79.64,125.62 80.74,125.97 80.97,126.56 81.96,126.69 82.66,127.47 82.91,127.41 83.88,128.46 84.34,128.37 84.59,128.80 85.50,128.68 86.02,129.34 86.34,129.03 87.52,129.56 87.70,129.35 88.65,129.90 89.38,129.89 89.82,130.51 90.84,130.59 91.06,131.00 91.96,130.48 92.73,130.68 92.74,130.41 93.66,130.29 94.42,129.49 94.54,129.80 95.41,128.97 96.10,129.02 96.55,128.44 97.38,128.29 97.78,127.89 98.28,127.82 99.14,127.20 99.46,127.36 100.36,126.44 101.14,126.37 101.45,125.85 102.44,126.02 103.36,125.07 104.00,125.07 104.62,125.64 105.04,126.60 105.88,126.53 106.72,127.02 106.85,126.87 107.89,127.87 108.40,127.88 109.11,128.59 109.96,128.58 110.08,128.71 110.82,128.69 111.58,129.24 111.76,129.19 112.58,129.01 113.45,128.45 113.74,129.04 114.53,128.97 115.13,129.25 115.49,129.17 116.79,130.27 116.81,129.90 117.78,130.57 118.49,130.78 118.71,131.28 119.91,131.31 120.17,131.53 121.14,131.08 121.85,131.23 122.07,130.70 122.84,130.52 123.53,129.50 123.93,129.72 125.07,128.77 125.21,128.94 126.32,128.13 126.89,128.20 127.42,127.83 128.31,127.78 128.57,127.32 129.31,127.79 130.19,127.79 130.25,128.17 131.15,128.14 131.93,128.45 132.13,128.29 133.38,128.88 133.61,128.56 134.63,129.01 135.29,128.57 135.88,128.88 136.87,128.46 136.97,128.77 138.15,129.05 138.66,129.32 138.93,129.12 140.18,129.25 140.34,129.10 141.27,129.49 142.02,129.48 142.49,129.88 143.44,129.49 143.70,129.95 144.73,129.73 145.38,130.31 145.45,129.95 146.66,130.04 147.06,129.66 147.85,129.74 148.00,129.37 148.77,130.95 149.81,132.18 149.97,132.59 150.80,133.51 151.61,135.21 151.95,135.27 152.93,137.22 153.42,137.94 153.88,138.64 154.70,139.48 155.22,140.60 155.88,140.84 156.12,141.52 157.01,140.58 157.03,140.90 157.77,139.36 158.83,138.22 159.06,137.52 159.89,136.72 160.64,135.35 160.81,135.56 161.76,134.20 162.44,133.71 162.81,133.34 164.04,132.85 164.25,132.48 165.31,132.35 166.05,131.77 166.39,131.89 167.31,131.38 167.86,131.45 168.07,131.06 168.81,131.25 169.66,131.13 169.82,131.40 170.88,131.13 171.84,131.46 172.01,131.17 172.81,131.85 173.13,131.83 174.08,132.37 174.49,132.35 174.99,133.14 175.94,133.22 176.17,133.57 176.75,133.61 177.85,134.26 178.01,134.07 179.06,134.90 179.53,134.69 180.09,134.95 181.04,134.88 181.90,135.50 182.78,135.28 182.89,135.56 183.78,135.63 184.75,136.26 186.04,136.15 186.25,136.73 187.07,136.56 187.90,136.97 188.63,136.66 189.43,137.31 189.61,136.99 190.33,137.30 191.50,137.46 192.74,137.98 192.97,137.76 193.58,138.18 194.75,137.96 195.71,138.49 196.34,138.23 196.73,138.87 197.75,138.65 198.48,139.02 199.22,139.02 199.70,139.43 200.32,139.32 201.43,139.87 202.36,139.51 203.06,139.83 203.61,139.79 204.80,140.08 205.69,139.91 206.42,140.24 206.43,140.02 207.46,140.51 208.55,140.29 209.38,140.67 209.78,140.38 210.11,140.84 211.10,140.43 211.82,140.88 212.97,140.79 213.14,141.01 214.04,140.98 214.91,141.41 215.88,141.16 216.72,141.55 217.04,141.46 217.53,141.61 218.34,141.59 218.72,141.87 219.53,141.89 220.40,142.36 220.50,141.93 221.63,142.45 222.08,142.25 222.53,142.61 223.72,142.57 223.76,142.92 224.78,142.91 225.45,143.24 225.87,143.13 226.81,143.74 227.13,143.45 227.84,143.70 228.66,143.76 228.81,143.90 229.94,144.08 230.49,144.47 231.04,144.14 232.06,144.47 232.17,144.21 233.15,144.47 233.85,144.14 233.91,144.64 234.81,144.22 235.53,144.65 235.65,144.20 236.37,144.17 236.85,144.47 237.21,145.41 237.56,144.73 238.05,144.42 238.53,144.01 238.89,144.13 239.75,143.56 240.57,143.73 240.92,143.31 242.05,143.38 242.25,143.10 242.93,143.15 243.77,142.92 243.93,143.22 244.89,142.75 245.61,142.82 245.77,142.63 246.90,142.84 247.29,142.63 247.81,142.69 248.97,142.43 248.97,142.77 250.01,142.24 250.66,142.43 251.20,142.25 252.34,142.41 252.50,142.27 253.42,142.65 254.02,142.45 254.71,143.13 255.42,142.90 255.70,143.46 256.65,143.66 257.36,144.36 257.38,144.32 258.39,145.09 259.06,145.44 259.32,145.90 260.49,146.44 260.74,147.05 261.38,147.25 262.20,148.10 262.42,147.95 263.37,149.12 264.10,149.29 264.40,149.54 265.55,149.86 265.78,150.30 266.55,150.39 267.27,151.00 267.46,150.89 268.43,151.47 269.14,151.34 269.26,151.68 270.25,151.75 270.82,151.96 270.95,151.69 271.80,152.23 272.08,151.73 272.90,151.97 273.76,151.49 274.06,151.41 275.14,150.43 275.45,150.55 276.11,149.67 277.13,149.08 277.25,148.69 278.35,148.07 278.81,147.58 279.17,147.76 280.19,146.66 280.49,146.57 281.25,145.90 282.17,145.73 282.39,145.33 283.21,145.36 283.85,144.95 284.10,145.16 285.00,144.90 285.53,144.92 285.76,144.71 286.67,145.00 287.21,144.70 287.81,145.09 288.85,144.61 288.89,145.00 289.65,144.82 290.57,145.12 290.79,144.87 291.56,145.14 292.25,145.13 292.71,145.47 293.50,145.23 293.93,145.55 294.26,145.43 295.11,145.80 295.61,145.34 296.12,145.69 296.98,145.75 297.29,146.29 298.21,146.18 298.97,146.57 299.48,146.45 300.35,146.90 300.66,146.82 301.50,147.07 302.34,147.09 302.61,147.31 303.65,147.48 304.02,147.88 304.50,147.55 305.70,147.83 305.77,147.49 307.05,147.72 307.38,147.61 307.75,148.13 308.65,147.86 309.06,148.52 309.55,148.10 310.37,148.64 310.74,148.34 311.32,148.85 312.42,148.84 312.56,148.95 313.28,148.84 314.10,149.17 314.48,148.64 314.94,148.67" stroke="#0000ff" stroke-width="1.05"/>
<polyline points="44.00,132.62 44.84,132.18 44.92,132.54 45.60,131.65 45.68,132.41 46.52,132.45 46.62,134.48 47.36,132.34 47.68,132.99 48.20,132.67 48.74,133.35 49.04,132.83 49.84,134.37 49.88,132.70 50.64,133.92 50.72,133.07 51.35,134.62 52.39,134.57 52.40,135.35 53.40,134.71 54.08,136.41 54.23,135.16 55.04,136.68 55.76,136.65 55.76,137.71 56.84,136.82 57.45,138.98 57.71,137.58 58.86,138.33 59.13,137.92 59.97,138.59 60.09,138.28 60.81,137.85 61.20,137.19 62.17,137.11 62.49,136.63 63.21,136.89 64.17,136.26 64.39,136.53 65.41,136.00 65.85,136.11 66.69,135.52 67.39,135.82 67.53,135.14 68.63,135.20 69.21,134.66 69.76,134.84 70.75,134.57 70.89,135.04 71.96,134.89 72.57,135.36 72.75,134.84 73.65,135.46 74.25,135.16 74.78,135.75 75.93,135.74 75.98,136.28 76.90,136.16 77.61,136.57 78.20,136.39 79.29,137.12 79.29,137.02 80.01,137.72 80.79,137.79 80.97,138.36 81.53,138.24 82.58,139.50 82.66,139.29 83.47,139.88 84.33,140.44 84.34,140.63 85.29,141.03 86.02,141.68 86.04,141.31 87.28,142.44 87.70,142.41 88.49,142.42 89.38,141.54 89.52,141.92 90.49,141.41 91.06,141.69 91.38,141.30 92.44,141.37 92.74,140.97 93.34,140.76 94.42,140.04 94.63,140.37 95.90,139.24 96.10,139.30 97.04,138.92 97.78,139.03 98.24,138.37 98.98,138.35 99.46,137.89 99.75,138.18 100.66,137.60 101.14,137.77 101.44,137.40 102.39,137.63 103.68,136.60 104.00,137.13 104.88,137.27 105.04,137.89 106.16,137.23 106.72,137.11 106.99,137.22 107.83,138.80 108.40,139.11 108.54,139.51 109.40,139.91 110.08,140.83 110.14,140.34 111.15,141.11 111.76,141.38 112.03,141.66 113.14,141.73 113.45,142.20 114.17,141.41 115.13,141.80 115.23,141.51 116.11,142.03 116.81,142.11 117.25,142.57 118.37,142.38 118.49,142.96 119.50,143.13 120.17,143.87 120.48,143.70 121.46,143.34 121.85,142.92 122.33,143.10 123.05,142.04 123.53,141.90 124.03,141.31 125.10,141.07 125.21,140.88 125.91,140.76 126.89,140.19 127.13,140.58 128.36,139.95 128.57,140.45 129.57,139.76 130.25,140.18 130.76,139.67 131.75,140.46 131.93,139.86 132.56,140.47 133.42,140.66 133.61,141.06 134.56,141.16 135.29,141.61 135.85,141.19 136.62,141.49 136.97,141.35 137.32,141.59 138.24,141.44 138.66,142.01 139.15,141.61 140.21,142.01 140.34,141.59 140.97,141.94 142.02,141.69 142.18,142.14 143.08,141.82 143.70,142.50 144.33,142.24 145.22,142.94 145.38,142.44 146.11,142.88 146.91,142.53 147.06,142.87 148.00,141.22 148.19,141.48 149.25,142.40 149.81,143.10 150.44,143.99 151.18,145.40 151.61,145.55 152.21,146.90 153.34,148.30 153.42,148.75 154.63,150.06 155.22,151.42 155.90,151.79 156.12,152.30 156.66,151.75 157.03,151.82 157.58,150.95 158.83,149.71 158.88,149.11 159.90,148.13 160.64,146.61 161.18,146.12 162.03,144.85 162.44,144.52 162.75,144.17 164.01,143.45 164.25,142.92 164.87,143.10 165.91,142.06 166.05,142.40 166.82,141.75 167.86,141.92 167.87,141.50 169.13,141.61 169.66,141.33 170.40,141.92 171.62,141.57 172.01,141.65 172.48,142.16 172.81,142.91 173.67,142.87 174.38,143.13 174.49,143.01 175.33,143.49 176.17,143.75 176.60,144.04 177.45,143.96 178.37,144.16 179.42,144.24 179.53,144.43 180.26,144.35 181.39,144.77 182.48,144.67 182.89,144.96 183.24,144.90 184.49,145.49 185.23,145.09 186.25,145.70 186.35,145.52 187.26,145.75 188.04,145.52 188.79,146.07 189.61,145.95 190.09,146.46 191.27,146.17 192.25,146.72 192.97,146.71 193.42,147.19 194.70,147.25 195.96,147.72 196.00,147.22 196.34,148.30 196.65,147.61 197.68,149.59 198.02,149.13 198.25,149.36 199.20,149.00 199.70,149.62 200.02,148.37 200.84,149.85 201.66,149.11 202.42,149.97 203.06,149.26 203.25,149.65 203.85,149.12 204.85,149.87 205.46,148.49 206.09,149.66 206.42,148.63 206.97,149.79 207.84,148.91 208.79,149.74 209.68,148.93 209.78,149.58 210.69,149.26 211.27,149.68 211.84,149.18 212.00,149.87 212.90,149.75 213.14,150.12 213.80,149.47 214.80,150.45 215.95,149.54 217.04,150.64 217.18,149.51 217.88,150.74 218.09,150.13 218.72,150.36 219.21,150.54 219.56,151.18 220.15,150.65 220.40,150.86 221.24,149.65 221.37,150.93 222.08,151.00 222.53,151.51 222.92,151.18 223.56,151.65 223.76,151.03 224.47,151.85 224.61,151.53 225.34,153.17 225.45,152.68 226.29,152.25 226.57,150.95 227.13,150.74 227.63,149.04 227.75,150.88 228.13,153.82 228.47,158.13" stroke="#000000" stroke-width="1.0"/>
<polyline points="44.00,148.62 44.95,147.75 45.68,147.41 45.98,146.97 47.18,146.43 47.36,145.84 48.47,145.79 49.04,145.40 49.64,145.92 50.66,145.95 50.72,146.14 51.79,145.82 52.40,146.25 52.87,146.01 54.08,146.55 54.15,146.47 55.43,146.87 55.76,146.84 56.59,147.48 57.42,147.53 57.45,148.01 58.46,148.56 59.13,149.69 59.42,149.64 60.26,151.03 60.81,151.49 61.43,152.34 62.26,152.78 62.49,153.41 63.33,153.23 63.39,153.32 64.17,152.68 64.38,152.74 65.34,151.44 65.85,151.22 66.46,150.21 67.53,149.64 67.60,149.28 68.89,148.02 69.21,147.52 70.19,146.92 70.89,145.85 71.37,145.85 72.23,145.06 72.57,144.99 73.33,144.40 74.25,144.54 74.33,144.37 75.59,145.31 75.93,145.28 76.56,146.20 77.47,146.70 77.61,147.10 78.19,147.20 79.17,148.71 79.29,148.37 80.19,149.71 80.97,150.19 81.08,150.47 81.84,150.87 82.66,152.01 82.83,152.03 83.57,153.11 84.34,153.40 84.37,153.59 85.34,154.06 86.02,154.61 86.25,154.25 87.25,155.00 87.70,154.70 88.27,155.07 89.20,155.08 89.38,155.32 89.98,155.05 90.69,155.04 91.06,154.80 91.73,155.07 92.74,155.09 93.01,155.53 93.88,155.26 94.42,155.86 94.79,155.68 95.68,156.27 96.10,155.96 96.83,156.42 97.78,155.97 97.82,156.10 99.00,155.31 99.46,155.31 99.70,154.82 100.48,154.62 101.14,153.69 101.31,153.96 102.23,153.06 103.17,152.71 104.00,151.72 104.10,152.08 105.04,152.16 105.38,152.14 106.34,151.14 106.72,151.13 107.39,150.55 108.40,150.04 108.67,149.63 109.75,149.49 110.08,149.30 110.81,149.93 111.76,149.81 112.00,150.31 112.90,150.60 113.45,151.08 113.63,151.11 114.90,152.81 115.13,152.54 115.92,153.30 116.81,153.74 116.97,154.17 117.71,154.06 118.49,154.64 118.86,154.39 119.78,154.86 120.17,154.75 120.87,155.10 121.74,155.15 121.85,155.55 122.99,155.34 123.53,155.77 123.91,155.26 124.78,155.26 125.21,154.82 126.01,154.47 126.84,153.60 126.89,153.69 127.71,152.91 128.57,152.58 128.70,151.91 129.99,151.46 130.25,151.01 130.76,151.20 131.58,150.58 131.93,150.83 132.76,150.39 133.51,150.76 133.61,150.36 134.46,150.89 135.29,150.85 135.62,151.34 136.75,151.30 136.97,151.85 137.93,151.68 138.66,152.03 138.70,151.81 139.93,152.17 140.34,152.01 140.85,152.62 142.02,152.61 142.03,152.93 143.02,152.82 143.70,153.26 144.25,153.26 145.24,153.78 145.38,153.44 146.09,153.89 146.88,153.81 147.06,153.99 147.88,152.14 148.00,152.20 148.61,152.46 149.41,153.80 149.81,153.64 150.64,155.22 151.61,156.46 151.68,156.74 152.90,158.69 153.42,159.68 153.69,159.89 154.68,161.63 155.22,161.82 155.66,162.74 156.12,163.20 156.42,163.47 157.03,162.89 157.28,162.82 158.53,160.43 158.83,160.22 159.67,158.71 160.64,157.72 160.67,157.35 161.74,156.32 162.44,155.18 162.96,155.20 164.23,154.04 164.25,154.56 165.28,153.75 166.01,153.54 166.05,153.33 167.24,153.51 167.86,153.00 168.04,153.18 168.88,153.14 169.66,153.47 169.66,153.07 170.67,153.40 171.72,153.08 172.01,153.41 172.70,154.11 172.81,154.43 173.68,154.49 174.46,155.08 175.59,155.07 176.17,155.52 176.62,155.13 177.50,155.87 178.70,155.69 179.53,156.42 179.97,156.03 181.22,156.71 182.51,156.64 182.89,157.21 183.25,156.87 184.18,157.49 185.15,157.45 186.01,157.83 186.25,157.69 187.15,158.30 188.40,158.12 189.18,158.61 189.61,158.37 190.18,158.78 191.46,159.06 192.70,159.50 192.97,159.43 193.67,159.96 194.43,159.73 195.41,160.20 196.34,160.08 196.41,160.52 197.59,160.77 198.02,161.29 198.35,163.88 198.40,164.17 199.03,161.57 199.27,161.94 199.70,161.86 200.56,162.24 201.26,162.33 202.33,162.81 203.06,162.62 203.09,162.97 204.24,162.98 205.19,163.46 206.42,163.29 206.45,163.63 207.28,163.48 208.51,163.96 209.34,163.87 209.78,164.08 210.07,163.98 210.82,164.57 211.57,164.42 212.50,164.95 213.14,164.90 213.79,165.15 214.70,164.86 215.83,165.22 216.55,164.81 217.04,164.88 217.56,164.75 218.58,165.11 218.72,164.82 219.34,165.14 220.39,165.17 220.40,165.46 221.36,165.30 222.08,165.78 222.25,165.62 223.45,166.19 223.76,166.05 224.57,166.68 225.34,166.80 225.45,167.16 226.10,167.17 226.83,167.81 227.13,167.75 227.69,168.22 228.77,168.18 228.81,168.59 230.06,168.51 230.49,168.73 231.34,168.84 232.17,169.08 232.56,168.99 233.33,169.10 233.85,168.87 234.50,169.22 235.53,168.98 235.66,169.34 236.37,169.48 236.65,170.43 237.21,172.02 237.71,177.68 237.94,175.24 238.22,172.99 238.89,170.18 239.00,170.44 239.73,168.93 239.77,169.19 240.57,167.70 240.60,168.00 241.38,167.59 242.25,167.48 242.45,167.08 243.52,167.23 243.93,166.86 244.74,167.05 245.44,166.83 245.61,167.32 246.15,166.82 247.29,166.81 247.43,166.56 248.29,166.77 248.97,166.63 249.15,166.71 250.37,166.37 250.66,166.69 251.13,166.33 252.31,167.02 252.34,166.47 253.55,167.01 254.02,166.48 254.59,166.80 255.65,166.98 255.70,167.36 256.36,166.93 257.38,167.57 257.42,167.23 258.49,168.39 259.06,168.59 259.65,169.34 260.66,170.16 260.74,170.47 261.43,171.38 262.26,172.97 262.42,172.76 263.35,174.61 264.10,175.35 264.10,175.62 264.87,176.27 265.72,177.65 265.78,177.39 266.89,179.11 267.46,179.49 267.92,180.20 268.84,180.98 269.14,181.47 270.11,181.22 271.16,181.68 272.01,181.38 272.08,181.49 273.05,180.58 273.76,180.36 274.26,179.53 275.18,178.89 275.45,178.40 276.14,177.60 277.13,176.21 277.19,176.50 278.48,175.01 278.81,174.87 279.56,173.72 280.37,173.28 280.49,172.89 281.42,172.24 282.17,171.22 282.31,171.16 283.30,169.58 283.85,169.24 284.43,168.37 285.14,167.84 285.53,167.31 286.14,167.25 287.03,166.10 287.21,166.31 288.09,165.59 288.89,165.53 289.28,165.21 290.26,165.07 290.57,164.82 291.34,164.83 292.21,164.37 292.25,164.50 293.07,164.25 293.93,164.05 294.07,163.80 295.09,163.97 295.61,163.41 295.93,163.82 297.08,163.23 297.29,163.32 298.08,163.08 298.97,163.49 299.00,163.11 299.85,163.33 300.66,163.11 301.05,163.49 302.29,163.27 302.34,163.46" stroke="#0000ff" stroke-width="1.05"/>
<polyline points="44.00,155.67 44.92,155.08 45.68,155.15 45.91,154.68 46.93,154.73 47.36,154.27 48.03,154.89 48.83,154.61 49.04,155.12 50.03,154.89 50.72,155.52 50.83,155.27 51.72,155.85 52.40,156.00 52.93,156.39 54.08,156.46 54.22,156.81 55.14,157.05 55.76,158.07 56.41,158.12 57.13,159.01 57.45,158.69 58.40,159.97 59.13,160.45 59.23,161.09 59.95,161.18 60.81,162.33 61.10,161.90 61.90,162.65 62.49,162.77 63.05,162.97 63.76,162.32 64.17,162.45 64.53,161.93 65.44,161.71 65.85,160.88 66.19,161.15 67.18,159.59 67.53,159.52 68.08,158.79 69.21,157.78 69.23,157.71 70.22,157.40 70.89,156.88 71.50,157.00 72.57,156.56 72.71,156.89 73.51,156.67 74.25,157.03 74.76,157.00 75.93,157.90 76.00,157.83 77.04,159.21 77.61,159.24 78.05,160.11 78.86,160.24 79.29,160.74 79.75,160.71 80.58,161.46 80.97,161.37 81.40,162.07 82.47,162.08 82.66,162.33 83.36,162.66 84.34,163.49 84.52,163.08 85.57,163.62 86.02,163.49 86.76,163.84 87.52,163.68 87.70,164.29 88.72,164.07 89.38,164.80 89.73,164.55 90.81,165.02 91.06,164.99 91.65,165.46 92.74,165.65 92.77,165.76 93.71,165.92 94.42,166.54 94.84,166.08 95.89,166.73 96.10,166.41 96.68,166.57 97.56,166.20 97.78,166.33 98.71,165.49 99.42,165.40 99.46,165.12 100.50,165.04 101.14,164.27 101.53,164.52 102.66,164.04 103.55,163.83 104.00,163.45 104.54,163.16 105.04,162.10 105.53,162.20 106.67,161.58 106.72,161.72 107.42,161.40 108.40,161.92 108.42,161.61 109.28,162.54 110.08,162.80 110.33,163.13 111.19,163.30 111.76,163.96 112.01,163.58 112.85,164.47 113.45,164.44 114.09,164.71 115.01,164.79 115.13,165.28 116.23,165.44 116.81,166.01 117.38,165.59 118.24,166.25 118.49,166.03 119.27,166.83 119.98,166.66 120.17,167.28 121.23,167.09 121.85,167.66 122.31,167.12 123.08,167.12 123.53,166.86 124.09,166.90 125.09,166.14 125.21,166.33 126.19,165.82 126.89,165.80 127.07,165.43 128.31,165.74 128.57,165.21 129.38,165.67 130.13,165.30 130.25,165.54 131.32,165.34 131.93,165.98 132.55,165.75 133.43,166.19 133.61,165.91 134.56,166.70 135.29,166.50 135.78,166.92 136.97,166.99 137.01,167.25 137.75,167.06 138.66,167.71 138.95,167.26 139.80,168.00 140.34,167.70 140.98,168.35 142.02,168.32 142.09,168.76 143.07,168.20 143.70,168.60 144.31,168.43 145.38,168.73 145.50,168.52 146.79,169.27 147.06,168.85 148.07,169.44 148.74,169.40 149.11,169.64 150.00,168.68 150.25,169.53 151.35,170.52 152.29,172.03 152.41,171.86 153.29,173.66 154.30,175.02 154.82,176.11 155.13,176.27 155.98,177.52 157.19,178.21 157.23,178.52 158.40,178.35 158.43,178.81 159.52,176.84 159.64,177.04 160.63,175.18 161.64,174.33 162.05,173.62 162.68,173.26 163.78,172.31 164.46,172.04 164.48,171.66 165.45,171.75 166.73,170.57 166.87,171.04 167.56,170.47 168.54,170.76 169.28,170.42 169.28,170.59 170.13,170.42 171.33,170.47 171.69,170.20 172.05,170.50 173.23,170.49 174.10,170.87 174.41,170.59 175.63,171.06 176.48,171.23 176.51,171.54 177.74,171.56 178.66,172.02 179.63,172.17 180.12,172.62 180.91,172.45 181.93,173.09 183.04,173.39 183.73,173.70 183.81,173.54 184.51,174.32 185.37,174.00 186.13,174.52 187.33,174.72 187.35,175.02 188.18,174.87 189.45,175.83 190.00,175.55 190.56,175.95 191.37,175.91 192.50,176.49 192.97,176.28 193.39,176.70 194.41,176.65 195.15,176.99 196.00,176.44 196.34,177.38 196.67,176.98 197.52,178.37 198.02,177.61 198.13,178.68 198.94,178.04 199.70,178.97 199.81,178.32 200.42,179.08 201.24,178.78 201.95,179.12 202.87,179.10 203.06,179.53 203.72,178.93 204.72,179.51 205.57,179.13 206.22,179.79 206.42,179.22 206.87,180.60 207.76,179.67 208.71,180.88 209.30,179.80 209.78,180.78 210.06,180.03 210.76,180.74 211.54,180.51 212.52,181.76 213.14,180.99 213.35,181.55 214.27,181.38 215.19,181.85 215.89,181.09 216.00,181.98 217.04,181.33 217.06,181.89 218.09,181.10 218.72,181.97 219.36,181.31 220.36,182.53 220.40,181.39 221.39,182.31 222.08,181.87 222.36,182.47 223.31,182.03 223.76,182.16 224.43,181.94 225.19,182.24 225.45,181.60 226.31,182.65 227.13,182.11 227.56,183.19 228.72,182.58 228.81,183.83 229.75,182.90 230.49,183.80 230.66,183.34 231.42,184.08 232.17,183.61 232.17,184.45 233.20,184.07 233.85,184.80 234.43,184.67 234.69,185.46 235.53,186.50 235.65,187.94 236.37,188.77 236.46,189.33 236.87,187.11 237.55,186.73 237.60,185.62 238.79,185.33 238.89,184.68 239.78,184.89 240.57,183.51 240.99,184.31 241.80,183.02 242.25,183.94 242.71,182.97 243.71,183.59 243.93,183.04 244.85,183.48 245.61,183.07 245.82,183.25 246.70,182.56 247.29,183.41 247.92,182.97 248.85,183.30 248.97,182.91 249.81,183.34 250.64,182.65 250.66,182.95 251.63,182.42 252.34,183.51 252.75,182.72 253.67,183.21 254.02,182.28 254.77,183.07 255.70,182.54 255.76,182.80 256.47,182.73 257.38,183.53 257.75,183.00 258.62,184.15 259.06,183.25 259.65,184.42 260.74,183.83 260.93,185.05 261.75,184.72 262.42,185.86 262.49,185.04 263.31,186.27 264.10,186.68 264.10,186.82 265.31,187.99 265.78,189.19 266.32,188.61 267.05,190.33 267.46,189.60 267.91,190.32 268.92,190.06 269.14,190.77 269.72,190.04 270.61,190.72 271.85,190.45 272.00,191.03 272.08,190.87 272.75,191.29 273.76,189.81 273.79,190.63 274.62,189.97 275.45,190.62 275.75,189.51 276.55,190.43 277.13,189.31 277.66,189.30 278.74,188.31 278.81,189.34 279.86,187.36 280.49,187.48 281.13,185.67 282.01,186.56 282.17,184.90 283.12,184.85 283.85,183.95 284.06,184.40 285.29,183.48 285.53,183.69 286.49,182.74 287.21,183.68 287.65,182.93 288.71,183.10 288.89,182.73 289.56,183.63 290.57,182.08 290.81,183.08 292.09,181.93 292.25,183.58 293.36,182.35 293.93,182.69 294.26,182.30 295.46,183.07 295.61,182.02 296.56,183.05 297.29,182.06 297.77,183.18 298.95,182.55 298.97,183.44 299.92,182.30 300.66,183.16 300.86,182.81 302.04,183.52 302.34,182.92 303.13,184.04 304.02,183.19 304.15,184.49 305.38,183.52 305.70,184.87 306.10,183.99 306.80,185.59 307.38,184.23 307.78,185.29 308.54,185.18 309.06,186.38 309.75,185.62 310.50,186.82 310.74,185.31 311.73,186.92 312.42,185.81 312.56,187.11 313.34,186.13 314.10,187.40 314.50,186.65 314.94,186.89" stroke="#000000" stroke-width="1.0"/>
<polyline points="44.00,182.87 44.84,181.85 45.26,181.89 45.34,178.13 46.02,186.75 46.33,180.91 46.52,181.91 47.18,180.29 47.36,183.53 48.20,177.87 48.32,180.67 49.04,178.29 49.27,181.59 50.21,176.89 50.72,180.55 51.56,176.52 52.40,178.40 52.73,175.15 54.00,178.87 54.08,175.22 55.31,178.84 55.76,174.94 56.37,179.45 57.43,176.76 57.45,180.11 58.49,176.70 59.13,180.77 59.49,177.55 59.97,183.33 60.78,179.87 60.81,182.56 61.31,171.45 61.82,181.61 62.13,175.88 62.49,177.33 63.10,180.89 63.16,184.92 63.83,175.38 64.34,184.29 64.50,184.28 65.18,184.42 65.25,182.45 65.85,187.71 66.00,185.53 66.69,186.96 67.11,186.62 67.53,187.14 68.28,185.66 68.37,186.28 69.17,183.93 69.21,184.42 70.47,181.73 70.89,181.45 71.60,179.40 72.50,178.64 72.57,178.37 73.65,178.14 74.25,177.02 74.86,177.77 75.64,176.35 75.93,176.87 76.89,176.94 77.61,177.61 77.85,177.67 78.72,178.65 79.29,178.19 79.64,179.84 80.66,179.36 80.97,180.66 81.67,180.28 82.55,181.80 82.66,181.02 83.29,182.13 84.34,181.85 84.37,182.86 85.50,182.26 86.02,182.97 86.61,182.36 87.55,183.93 87.70,182.89 88.77,183.71 89.38,183.19 89.48,183.58 90.25,182.78 90.97,183.36 91.06,182.49 92.00,183.03 92.74,182.43 93.01,183.26 93.85,182.67 94.42,183.55 94.86,183.36 95.57,184.19 96.10,183.88 96.29,184.95 97.56,184.59 97.78,185.00 98.80,184.60 99.46,185.09 99.54,184.24 100.63,185.81 101.14,184.63 101.64,185.63 102.66,185.28 103.86,186.11 104.00,185.77 104.68,184.89 105.04,183.41 105.82,182.91 106.72,181.68 107.11,181.97 108.09,180.55 108.40,180.71 109.30,180.04 110.08,180.16 110.24,179.49 111.19,179.90 111.76,178.94 112.38,179.51 113.45,178.63 113.66,178.89 114.81,178.49 115.13,178.77 115.93,178.18 116.81,178.84 117.13,178.20 118.38,178.62 118.49,178.37 119.65,178.50 120.17,177.74 120.67,177.13 121.01,176.34 121.61,178.47 121.85,178.54 122.31,179.49 123.33,179.45 123.53,180.34 124.24,179.66 124.94,180.50 125.21,180.19 126.23,181.59 126.89,181.58 127.12,182.37 128.38,182.21 128.57,183.10 129.09,182.76 130.00,183.62 130.25,183.22 131.17,184.26 131.93,184.28 132.28,184.95 133.38,184.82 133.61,185.22 134.37,185.15 135.13,186.22 135.29,185.66 136.13,187.25 136.33,186.24 136.97,186.01 137.48,184.73 137.82,184.49 138.47,185.53 138.66,186.35 139.51,185.02 140.34,184.30 140.69,183.98 141.69,183.44 142.02,182.88 142.67,182.86 143.66,181.60 143.70,181.77 144.54,180.70 144.81,181.24 145.38,181.39 145.95,181.86 146.85,182.39 147.06,182.85 148.01,183.01 148.74,183.72 148.94,183.45 150.00,184.36 150.04,183.58 150.97,184.84 152.21,185.54 152.41,186.30 153.47,186.49 154.64,187.78 154.82,187.21 155.57,188.82 156.48,189.37 156.63,190.03 157.23,192.65 157.44,192.66 157.83,190.17 158.43,191.65 158.50,190.93 159.22,191.06 159.64,190.19 160.25,190.16 160.84,189.23 161.51,188.69 162.05,188.05 162.25,188.02 163.25,186.54 163.48,187.00 164.46,186.18 164.52,186.81 165.66,184.23 165.82,184.30 166.27,182.67 166.87,184.13 166.96,183.78 168.09,184.36 169.24,183.50 169.28,184.26 170.19,183.65 170.96,183.87 171.69,183.54 172.17,183.91 173.40,183.41 174.10,184.03 174.53,183.49 175.36,183.99 176.36,183.15 176.51,183.90 177.37,183.08 178.29,183.88 178.92,182.92 179.28,183.63 180.26,183.36 181.33,184.35 181.55,183.73 182.62,184.45 183.73,184.59 183.91,185.42 185.15,185.51 185.96,186.05 186.14,186.06 187.12,186.84 188.05,186.87 189.11,187.89 190.00,187.60 190.15,188.45 191.29,188.18 191.29,188.74 192.17,188.85 192.97,189.58 193.28,189.16 194.20,190.21 194.66,189.46 195.37,190.31 196.00,190.35 196.34,191.17 196.57,190.17 197.25,191.70 197.97,190.92 198.02,192.32 198.85,189.75 198.86,190.99 199.49,190.71 199.70,191.95 200.28,190.54 200.97,191.10 201.80,190.89 202.69,191.65 203.06,190.79 203.50,191.88 204.42,190.61 205.28,191.16 205.88,190.23 206.42,191.44 206.76,190.34 207.55,191.57 208.47,190.31 209.48,191.53 209.78,190.35 210.21,191.83 211.18,190.27 211.85,191.24 212.00,190.64 212.92,190.80 213.14,189.96 213.94,190.78 214.93,190.26 216.13,191.41 216.20,190.68 216.99,190.41 217.04,188.62 217.86,191.38 217.88,190.13 218.72,190.48 218.80,189.07 219.56,191.62 219.89,189.53 220.40,189.42 220.68,189.13 221.24,191.06 221.97,189.89 222.08,190.62 222.92,190.00 222.97,190.99 223.76,188.25 224.11,189.58 224.61,189.41 225.06,190.46 225.45,187.94 225.78,190.19 226.29,189.16 226.71,189.90 227.13,188.13 227.75,190.95 227.97,189.58 228.50,190.05 228.81,189.52 229.65,193.53 229.79,193.11 230.15,195.41" stroke="#000000" stroke-width="1.0"/>
<polyline points="44.00,199.56 44.68,200.49 44.84,201.39 45.23,201.45 45.68,203.06 45.92,201.42 46.45,202.20 46.52,200.29 47.25,203.22 47.36,202.24 47.83,202.90 48.71,200.90 49.04,202.48 49.24,201.05 50.00,202.38 50.72,201.13 50.76,202.67 51.33,201.47 52.09,202.35 52.40,201.13 52.81,201.74 53.56,200.59 54.08,202.26 54.12,200.46 54.81,201.33 55.66,201.17 55.76,202.67 56.41,201.28 57.00,201.93 57.45,200.42 57.63,201.79 58.49,200.46 59.00,200.65 59.13,199.90 59.69,200.71 60.40,199.75 60.81,200.99 61.07,199.67 61.56,200.78 62.09,199.94 62.49,202.14 62.94,200.91 63.62,203.05 64.17,202.91 64.23,204.20 64.91,203.67 65.42,205.84 65.85,204.89 65.94,206.72 66.69,206.01 66.72,206.30 67.51,205.44 67.53,205.69 68.31,204.44 69.19,203.78 69.21,203.36 69.91,202.62 70.89,201.06 70.96,201.23 72.03,199.32 72.57,198.75 72.97,197.92 74.14,196.50 74.25,195.84 75.17,195.40 75.93,194.33 76.28,194.28 77.03,193.88 77.61,193.90 77.93,193.86 78.64,194.70 79.29,194.61 79.44,195.45 80.65,196.99 80.97,198.06 81.43,198.50 82.49,200.87 82.66,201.08 83.42,202.51 84.34,203.43 84.52,204.01 85.74,204.59 86.02,205.14 86.94,203.96 87.70,203.76 88.22,203.16 89.38,202.65 89.50,202.03 90.44,202.42 91.06,201.66 91.73,201.44 92.74,200.21 92.89,200.30 93.75,199.10 94.42,198.73 94.65,198.26 95.26,198.34 95.67,198.53 96.10,199.50 96.87,200.10 97.63,201.27 97.78,201.03 98.87,202.47 99.46,202.70 99.97,203.19 101.02,203.42 101.14,203.71 101.97,203.29 102.90,203.78 103.84,203.04 104.00,203.34 104.97,203.90 105.04,204.13 105.94,203.56 106.72,203.83 107.06,203.17 108.29,203.22 108.40,202.58 109.04,202.24 109.75,201.31 110.08,201.12 111.02,200.05 111.76,199.71 111.83,199.25 113.02,198.23 113.45,197.58 113.97,197.73 114.80,196.60 115.13,196.60 115.51,196.32 116.47,196.24 116.81,195.82 117.53,196.00 118.26,195.49 118.49,195.90 118.96,195.37 119.84,195.46 120.17,194.94 121.06,194.88 121.85,194.22 122.22,194.45 123.07,193.67 123.53,193.78 124.01,193.17 124.96,193.15 125.21,192.53 126.09,192.37 126.89,191.35 126.96,191.75 127.73,190.90 127.87,191.07 128.57,190.91 128.87,191.35 129.72,191.80 130.25,192.49 130.67,192.46 131.82,193.95 131.93,193.67 132.82,194.78 133.56,195.45 133.61,195.83 134.47,196.05 135.29,196.90 135.51,196.50 136.35,197.36 136.97,196.99 137.28,197.33 138.32,196.86 138.66,197.06 139.24,196.39 140.04,196.38 140.34,195.85 141.27,195.79 142.01,194.67 142.02,195.08 143.25,193.92 143.70,194.06 144.01,193.64 145.04,193.76 145.38,193.27 146.07,194.20 146.22,193.71 147.01,195.36 147.06,195.18 147.90,196.28 148.09,195.98 148.74,196.99 149.32,197.25 150.21,198.47 150.42,198.37 150.95,199.11 151.77,199.48 152.10,200.23 153.00,200.53 153.78,201.43 154.05,200.95 155.21,201.19 155.46,201.01 156.14,201.31 157.03,200.88 157.14,201.16 158.15,201.07 159.19,201.18 160.00,200.91 160.44,200.90 161.04,200.04 161.23,200.50 162.14,199.93 162.72,200.15 163.25,199.72 164.40,199.66 164.50,199.28 165.48,200.04 166.08,200.07 166.65,200.59 167.42,200.65 167.76,201.31 168.50,200.83 169.40,201.36 169.45,201.03 170.51,200.64 171.13,199.74 171.39,199.85 172.21,198.86 172.81,198.88 173.07,198.17 174.20,197.54 174.49,196.96 175.33,197.00 176.17,195.93 176.57,196.22 177.52,195.09 177.85,195.35 178.26,195.03 179.45,194.83 179.53,194.57 180.30,194.76 181.21,194.64 181.43,195.07 182.43,195.07 182.89,195.45 183.39,195.35 184.11,196.10 184.57,195.98 184.95,196.62 186.10,197.52 186.25,197.74 187.07,198.55 187.93,200.06 188.30,200.35 189.49,202.46 189.61,202.17 190.50,203.20 191.29,203.57 191.79,204.03 192.50,203.97 192.97,204.78 193.44,204.36 194.46,205.26 194.66,204.89 195.19,205.09 196.34,205.26 196.41,205.54 197.20,204.97 198.02,205.11 198.25,205.92 198.35,206.73 199.03,205.12 199.11,205.42 199.70,204.92 200.04,205.27 201.02,204.91 201.90,205.28 202.70,204.74 203.06,205.13 203.80,204.90 204.87,205.22 205.62,205.18 206.42,205.57 206.91,205.24 207.67,205.64 208.50,205.40 209.37,205.70 209.78,205.58 210.29,205.88 211.28,205.36 212.53,205.42 213.14,205.05 213.29,205.29 214.33,204.72 215.41,204.38 216.26,203.79 217.04,203.92 217.18,203.58 218.14,203.76 218.72,203.08 219.37,203.41 220.40,202.65 220.54,202.95 221.53,202.75 222.08,202.88 222.27,202.53 223.18,202.89 223.76,202.52 224.37,203.11 225.34,202.52 225.45,202.83 226.27,202.65 227.13,203.11 227.35,202.69 228.08,202.87 228.81,202.77 229.16,202.99 230.28,202.62 230.49,202.86 231.04,202.70 232.00,203.03 232.17,202.72 233.21,203.61 233.85,203.37 234.07,204.00 235.08,204.81 235.53,205.52 235.99,206.60 236.37,207.86 237.02,210.23 237.21,211.40 237.71,216.14 237.96,214.29 238.22,211.81 238.86,208.35 238.89,207.72 239.73,205.53 240.12,204.84 240.57,204.64 241.23,203.96 242.25,203.74 242.53,203.39 243.43,203.59 243.93,203.27 244.41,203.32 245.33,203.16 245.61,203.34 246.55,203.31 247.29,203.85 247.47,203.47 248.58,204.23 248.97,203.78 249.39,204.59 250.41,205.07 250.66,205.64 251.28,205.53 252.34,206.88 252.52,206.54 253.44,207.63 254.02,207.69 254.72,208.58 255.70,209.36 255.75,209.84 256.66,210.24 257.38,211.53 257.69,211.34 258.95,213.13 259.06,212.75 260.06,213.57 260.74,213.91 261.26,214.77 262.30,215.38 262.42,215.81 263.37,216.66 264.10,217.68 264.15,217.41 265.35,219.36 265.78,219.42 266.44,220.62 267.46,221.95 267.53,222.51 268.41,223.46 269.14,225.00 269.57,225.42 270.58,227.44 271.48,228.92 272.00,230.84 272.08,229.79 273.04,231.46 273.76,230.43 273.78,230.63 274.58,229.85 275.25,230.38 275.45,229.61 276.05,229.99 276.96,228.33 277.13,229.22 278.00,227.33 278.81,227.51 278.90,226.53 279.99,226.12 280.49,224.17 281.16,223.36 282.10,221.01 282.17,221.78 282.75,219.31 283.45,218.84 283.85,217.56 284.44,217.11 285.14,214.79 285.53,214.89 286.26,212.69 286.92,212.20 287.21,211.73 287.58,212.30 288.75,209.56 288.89,210.18 289.60,209.56 290.53,209.73 290.57,208.60 291.48,209.58 292.17,208.51 292.25,209.34 292.98,208.77 293.81,209.77 293.93,209.28 294.84,210.82 295.61,209.19 295.89,210.81 296.90,209.73 297.29,211.13 297.63,209.32 298.51,210.14 298.97,209.15 299.63,210.89 300.36,209.86 300.66,210.51 301.17,209.59 302.14,211.01 302.34,209.71 303.30,210.90 303.95,210.08 304.02,210.60 304.95,210.49 305.70,211.89 305.83,210.76 306.75,212.22 307.38,210.81 307.83,212.24 308.51,211.65 309.06,212.10 309.46,212.33 310.26,213.98 310.74,212.71 311.30,215.35 312.32,215.60 312.42,217.00 313.17,217.13 313.26,218.05 313.88,218.20 314.10,220.23 314.93,219.63 314.94,220.48" stroke="#0000ff" stroke-width="1.2"/>
<polyline points="44.00,225.09 44.84,225.88 45.13,225.88 45.68,218.25 46.08,224.91 46.52,222.83 47.34,224.20 47.36,219.75 48.20,227.25 48.35,223.13 49.04,224.22 49.27,222.59 49.88,229.27 50.06,223.79 50.72,224.72 51.48,226.30 51.56,230.62 52.33,223.79 52.40,226.43 53.24,221.53 53.27,226.19 54.08,224.90 54.65,224.98 54.92,220.78 55.46,226.93 55.76,222.30 56.50,224.47 56.61,221.31 57.45,225.35 57.55,222.78 58.29,223.67 58.77,221.72 59.13,227.03 59.97,220.67 60.06,225.15 60.81,222.48 61.47,226.61 61.65,223.26 62.45,227.98 62.49,224.04 63.28,227.86 63.33,223.98 64.17,229.37 64.19,224.94 64.97,229.41 65.01,226.41 65.85,228.90 65.91,224.76 67.09,228.78 67.53,224.00 68.45,228.19 69.21,223.31 69.29,226.95 70.23,222.62 70.89,226.26 71.59,220.48 72.57,222.89 72.75,219.50 73.78,222.85 74.25,218.70 74.60,221.44 75.41,216.97 75.93,221.31 76.00,218.75 76.76,218.72 76.77,218.06 77.57,219.68 77.61,219.00 78.43,220.48 79.25,220.72 79.29,221.89 80.29,221.21 80.97,223.72 81.18,222.20 82.01,223.79 82.66,223.89 83.23,225.73 84.16,224.99 84.34,225.49 84.86,224.70 85.56,224.68 86.02,224.01 86.59,224.41 87.31,222.89 87.70,223.60 88.35,221.75 89.06,221.82 89.38,221.30 90.04,221.48 91.06,219.75 91.11,220.62 92.14,219.41 92.74,219.63 92.97,218.64 93.58,218.80 94.17,218.99 94.42,220.71 95.45,219.93 96.10,221.04 96.64,220.62 97.78,221.82 97.90,221.63 99.19,222.01 99.46,221.61 100.11,222.46 101.13,222.33 101.14,222.71 102.08,222.09 103.25,223.36 104.00,222.84 104.05,224.30 104.89,221.92 105.04,222.80 105.86,221.41 106.72,222.24 106.89,220.60 108.18,220.63 108.40,219.83 109.08,220.25 109.78,219.33 110.08,219.80 110.72,218.98 111.76,219.86 111.94,218.39 112.70,219.09 113.45,218.36 113.71,218.86 114.77,217.24 115.13,218.56 115.97,216.95 116.81,217.98 116.87,216.49 117.94,217.63 118.49,215.42 119.21,216.74 120.17,214.70 120.49,215.39 121.53,214.48 121.85,215.39 122.43,213.64 123.52,214.40 123.53,212.71 124.66,213.08 125.21,212.21 125.77,213.03 126.87,211.93 126.89,212.61 127.81,211.97 128.57,212.83 128.94,211.91 129.85,213.50 130.25,212.34 130.69,213.15 131.44,212.70 131.93,214.54 132.48,213.21 133.28,215.11 133.61,213.99 134.15,215.87 135.03,214.62 135.29,216.14 135.95,215.48 136.90,215.73 136.97,215.11 138.19,216.73 138.66,215.39 139.20,215.86 140.23,215.03 140.34,216.39 141.17,214.91 142.02,215.87 142.20,215.60 143.39,216.37 143.70,215.59 144.40,216.87 145.38,216.31 145.41,217.57 146.32,217.37 147.06,218.40 147.13,217.82 147.96,219.40 148.71,218.71 148.74,219.24 149.58,218.84 150.31,219.57 150.42,219.39 151.26,221.02 152.10,219.36 152.30,220.67 153.07,219.74 153.78,221.85 154.22,220.17 155.19,222.05 155.46,220.78 156.27,222.28 157.14,221.50 157.23,222.83 158.40,221.43 159.51,222.60 160.00,222.06 161.04,222.51 161.08,221.87 162.09,222.36 162.72,221.60 163.06,221.89 164.34,221.16 164.40,221.97 165.51,220.95 166.08,221.39 166.35,220.47 167.47,220.74 167.76,219.92 168.40,219.93 169.38,218.37 169.45,219.23 170.27,217.83 171.11,218.04 171.13,217.25 171.99,217.42 172.81,216.60 172.85,216.97 173.66,215.84 174.49,216.41 174.89,215.70 175.82,215.62 176.17,215.24 176.85,215.70 177.85,214.92 178.04,215.46 179.15,214.92 179.53,215.20 179.94,214.67 181.21,215.41 181.21,215.09 182.47,215.88 182.89,215.52 183.68,216.27 184.57,216.40 184.57,216.84 185.77,216.88 186.25,217.72 186.86,217.54 187.57,218.20 187.93,217.97 188.50,219.03 189.61,218.82 189.62,219.65 190.65,219.69 191.29,220.49 191.92,220.19 192.97,221.00 193.09,220.54 194.29,221.68 194.66,221.24 195.58,221.61 196.00,221.29 196.34,221.77 196.92,221.47 197.56,221.52 198.02,221.29 198.51,222.08 199.36,221.51 199.70,222.51 200.29,221.63 201.14,222.51 202.18,221.56 203.06,222.57 203.07,221.72 203.85,222.29 204.70,221.84 205.53,223.17 206.22,222.24 206.42,222.71 206.93,222.59 207.88,222.99 208.83,222.38 209.78,223.32 209.85,222.92 210.74,223.58 211.54,223.22 212.29,223.95 213.14,222.97 213.19,223.63 214.06,223.07 215.08,223.46 215.99,221.97 216.00,222.88 217.00,221.99 217.04,222.63 217.76,221.65 218.72,221.74 218.76,221.30 219.71,221.95 220.40,221.31 220.40,221.92 221.13,220.92 222.03,221.28 222.08,220.87 222.66,220.84 223.35,220.17 223.76,220.39 224.00,220.25 224.61,220.25 225.45,219.80 225.61,220.09 226.65,219.47 227.13,219.98 227.60,219.38 228.40,220.25 228.81,219.30 229.32,219.77 230.21,219.41 230.49,220.01 230.98,219.30 231.79,219.84 232.17,219.06 232.41,219.58 233.09,219.09 233.81,219.64 233.85,219.08 234.55,219.66 235.42,219.37 235.53,220.20 236.10,221.58 236.37,222.67 236.77,226.51 236.87,228.07 237.21,224.80 237.75,223.34 238.05,221.38 238.69,220.59 238.89,219.83 239.69,219.40 240.57,218.55 240.63,219.03 241.28,218.30 242.08,218.57 242.25,217.94 243.04,218.05 243.93,217.23 243.99,217.65 244.65,217.24 245.45,217.76 245.61,217.50 246.29,217.58 246.85,217.25 247.29,218.01 247.53,217.24 248.45,218.04 248.97,217.24 249.33,218.09 250.10,217.51 250.66,218.38 250.94,217.86 251.75,218.34 252.34,218.26 252.47,218.48 253.07,218.68 253.99,219.42 254.02,219.08 254.92,219.99 255.69,219.69 255.70,220.20 256.62,220.41 257.38,221.89 257.58,221.45 258.47,222.50 259.06,222.48 259.42,222.96 260.44,223.85 260.74,224.37 261.02,224.44 262.03,225.16 262.42,225.08 262.81,226.33 263.74,226.38 264.10,227.14 264.66,227.81 265.26,229.13 265.78,229.13 266.11,229.98 266.71,230.38 267.46,232.13 267.62,231.98 268.30,233.58 268.34,233.48 269.08,234.70 269.14,233.95 269.77,235.61 269.98,235.91 270.72,235.29 270.82,234.72 271.59,234.90 272.00,233.78 272.08,234.98 272.92,238.49 272.97,239.31 273.73,234.31 273.76,235.57 274.61,237.06 274.84,238.48 275.45,233.66 275.91,237.45 276.29,237.36 277.05,237.17 277.13,233.90 277.88,238.17 277.97,237.14 278.79,234.60 278.81,232.44 279.59,233.28 280.41,229.63 280.49,231.28 281.56,226.87 282.17,227.60 282.71,225.35 283.85,223.04 283.88,222.32 285.00,221.73 285.53,219.64 285.89,221.94 286.00,220.21 286.71,220.87 287.21,219.80 287.54,220.33 288.77,219.23 288.89,220.25 289.89,219.25 290.57,220.07 290.65,218.70 291.52,220.04 292.25,218.49 292.45,219.25 293.44,218.25 293.93,219.25 294.16,218.64 295.41,219.01 295.61,218.27 296.43,218.74 297.29,217.95 297.29,218.84 298.01,217.91 298.97,218.45 299.05,218.07 300.31,218.93 300.66,217.61 301.44,218.86 302.34,217.72 302.66,218.39 303.88,218.11 304.02,219.32 304.98,217.75 305.70,218.74 305.71,217.71 306.60,218.50 307.38,218.45 307.65,219.47 308.60,219.09 309.06,219.58 309.43,219.42 310.17,221.14 310.74,220.52 311.39,223.83 311.58,222.88 312.42,222.96 312.49,222.45 313.26,221.97 313.37,221.73 314.10,222.79 314.35,222.02 314.94,223.26" stroke="#000000" stroke-width="1.0"/>
<polyline points="44.00,239.27 44.84,238.24 45.09,239.60 45.68,234.21 45.99,240.03 46.52,240.25 46.63,243.47 47.30,236.02 47.36,238.41 48.20,242.39 48.24,245.15 49.04,236.54 49.32,241.12 49.88,239.28 50.13,241.35 50.72,235.27 50.83,238.80 51.56,239.17 51.87,241.51 52.40,236.08 52.79,240.57 53.67,236.71 54.08,240.09 54.37,236.43 55.30,240.66 55.76,237.49 56.24,240.48 57.26,234.84 57.45,239.17 58.37,236.47 59.04,240.76 59.13,237.23 60.12,239.98 60.81,236.66 60.93,239.68 61.78,237.39 62.49,241.86 62.60,237.51 63.66,241.39 64.17,237.78 64.53,241.53 65.20,239.19 65.85,243.78 66.09,241.35 66.80,244.39 67.43,242.52 67.53,246.07 68.09,242.08 68.93,244.04 69.21,240.19 69.80,241.68 70.00,239.46 70.89,239.28 71.18,237.62 72.11,237.41 72.57,236.37 72.97,236.54 74.20,234.85 74.25,235.09 75.28,234.07 75.93,234.84 76.42,234.12 77.43,236.01 77.61,235.82 78.56,237.92 79.29,237.57 79.83,239.25 80.97,240.02 80.98,240.37 82.26,240.52 82.66,241.54 83.17,240.07 84.05,240.67 84.34,239.90 85.28,240.71 86.02,239.18 86.48,239.19 87.70,237.64 87.71,239.71 88.67,237.76 89.38,238.06 89.62,237.03 90.89,236.45 91.06,235.29 91.71,236.70 92.51,234.35 92.74,235.35 93.31,233.72 93.58,235.55 94.19,235.02 94.42,236.37 95.14,235.93 96.08,238.11 96.10,236.12 97.05,237.86 97.77,237.01 97.78,238.07 98.68,238.08 99.46,239.20 99.68,238.57 100.41,239.60 101.14,238.59 101.40,240.17 102.65,239.39 103.74,240.10 104.00,239.64 104.21,239.91 105.03,238.17 105.04,238.63 105.96,237.60 106.72,237.45 107.09,236.77 108.34,236.17 108.40,235.85 109.39,235.84 110.08,235.09 110.18,235.31 111.11,234.44 111.76,234.89 111.89,234.06 112.76,234.04 113.45,233.47 113.80,233.62 114.81,232.66 115.13,232.72 115.61,232.21 116.47,232.34 116.81,231.66 117.71,231.80 118.49,230.70 118.79,230.85 119.85,230.26 120.17,230.44 120.74,229.58 121.62,229.73 121.85,229.19 122.78,229.03 123.49,228.16 123.53,228.68 124.58,227.70 125.21,227.74 125.86,226.89 126.89,226.72 126.94,226.40 127.67,226.42 127.73,225.59 128.39,226.91 128.57,226.03 129.56,227.54 130.25,227.41 130.37,227.85 131.32,228.06 131.93,229.03 132.41,228.93 133.52,229.80 133.61,229.54 134.39,230.53 135.29,230.14 135.50,230.62 136.75,230.81 136.97,231.35 137.73,230.69 138.66,230.99 138.67,230.07 139.78,230.39 140.34,229.68 141.00,229.93 142.02,228.96 142.11,229.46 143.37,228.61 143.70,229.14 144.54,228.23 145.38,228.91 145.81,228.77 146.66,230.57 147.06,230.42 147.77,231.51 148.59,231.28 148.74,231.82 149.36,231.97 150.27,232.89 150.42,232.55 151.54,233.79 152.10,233.39 152.41,234.18 153.30,233.95 153.78,234.44 154.55,234.47 155.46,235.36 155.84,234.90 157.00,236.15 157.14,235.80 157.91,236.21 159.10,236.25 159.84,236.77 160.00,236.29 160.55,236.17 161.04,235.22 161.29,235.67 162.19,234.70 162.72,235.24 163.03,234.63 164.25,234.87 164.40,234.32 165.22,234.23 166.08,233.81 166.43,234.26 167.42,233.06 167.76,233.66 168.34,232.27 169.25,232.02 169.45,231.43 169.97,231.40 170.95,230.31 171.13,230.94 172.22,229.54 172.81,229.82 173.50,228.48 174.49,228.41 174.76,227.83 175.52,227.59 176.17,227.07 176.48,227.36 177.68,226.58 177.85,226.88 178.48,226.42 179.22,226.54 179.53,226.30 180.04,226.83 180.79,226.37 181.21,226.74 181.93,226.66 182.89,227.63 183.06,227.11 184.35,228.54 184.57,227.72 185.09,229.05 186.21,229.13 186.25,229.69 187.38,230.05 187.93,231.05 188.19,230.33 188.94,231.09 189.61,231.41 190.22,231.78 191.29,232.00 191.40,232.74 192.14,232.07 192.95,232.84 192.97,232.31 194.05,232.98 194.66,232.92 194.85,233.46 195.81,233.58 196.00,234.33 196.34,233.50 196.99,235.56 197.18,234.85 197.66,234.83 198.02,233.76 198.51,234.30 199.52,233.83 199.70,234.72 200.30,234.11 201.06,234.85 202.08,234.51 203.06,234.84 203.06,234.72 204.06,235.06 204.96,234.98 205.63,235.13 206.21,234.78 206.42,235.86 206.78,234.92 207.79,236.09 208.61,235.61 209.59,236.56 209.78,235.82 210.61,236.73 211.28,236.12 212.31,236.60 213.00,236.23 213.14,236.67 213.65,236.17 214.34,236.51 215.38,235.16 216.00,235.77 216.63,234.78 217.04,235.01 217.62,234.49 218.44,234.71 218.72,234.12 219.47,234.56 220.29,233.66 220.40,234.30 221.31,233.29 222.08,233.37 222.20,233.11 222.95,233.05 223.53,232.55 223.76,232.65 224.16,232.37 225.10,232.30 225.45,232.05 225.98,232.48 226.68,231.58 227.13,231.86 227.32,231.56 228.19,231.84 228.81,231.45 229.19,231.54 229.87,231.07 230.49,231.35 230.91,230.89 231.73,231.04 232.17,230.75 232.39,231.27 233.03,230.90 233.85,231.25 233.94,230.68 234.94,231.96 235.53,231.59 235.60,232.49 236.27,236.01 236.37,237.08 236.87,245.00 236.90,245.05 237.38,238.34 237.56,237.51 238.05,233.28 238.23,233.43 238.89,231.67 238.99,231.90 239.67,230.96 240.54,230.71 240.57,230.31 241.22,230.39 241.91,229.83 242.25,230.10 242.67,229.36 243.31,229.57 243.89,229.07 243.93,229.55 244.50,229.06 245.06,229.62 245.61,229.15 245.94,229.29 246.53,229.16 247.29,229.55 247.32,229.07 248.30,230.05 248.97,229.56 249.16,230.19 249.87,230.02 250.62,230.84 250.66,230.42 251.38,231.12 252.10,230.72 252.34,231.19 252.68,230.90 253.32,231.73 253.95,231.42 254.02,231.87 254.61,232.26 255.33,233.15 255.70,233.07 255.94,233.43 256.79,233.57 257.38,234.59 257.45,234.27 258.25,235.12 259.06,235.43 259.14,235.70 259.94,236.16 260.74,237.34 260.86,236.71 261.79,238.08 262.42,238.49 262.57,239.17 263.23,239.03 263.81,239.97 264.10,239.91 264.70,241.39 265.44,241.87 265.78,242.95 266.14,243.04 266.74,243.98 267.39,244.62 267.46,245.04 268.37,245.52 269.14,246.71 269.16,246.30 270.13,247.45 270.82,247.49 271.09,247.69 271.77,245.90 272.00,246.48 272.08,245.44 273.00,246.55 273.73,246.52 273.76,246.84 274.98,246.13 275.45,246.57 275.82,245.32 276.99,245.15 277.13,244.66 277.81,244.71 278.67,242.91 278.81,243.62 279.45,241.73 280.47,241.17 280.49,240.21 281.34,239.59 282.17,236.73 282.39,236.64 283.52,234.16 283.85,233.84 284.35,233.01 285.13,232.68 285.53,231.19 286.14,231.86 287.08,230.39 287.21,231.42 288.05,230.36 288.89,230.35 288.97,229.57 289.77,230.44 290.54,229.79 290.57,230.12 291.68,229.34 292.25,230.99 292.76,229.46 293.87,230.21 293.93,229.06 294.95,229.64 295.61,229.17 295.96,229.78 296.78,229.22 297.29,230.28 298.03,229.34 298.97,229.84 299.05,228.85 300.02,229.45 300.66,228.67 300.88,230.09 301.81,228.91 302.34,229.62 303.09,229.26 304.02,230.34 304.04,228.67 305.22,229.79 305.70,229.29 306.00,230.25 307.05,230.40 307.38,231.24 307.92,230.84 308.76,232.34 309.06,230.95 309.64,232.32 310.58,232.55 310.74,233.34 311.58,231.36 311.66,232.01 312.42,231.73 312.61,232.71 313.26,233.32 313.82,234.36 314.10,234.39 314.62,234.52 314.94,233.38" stroke="#000000" stroke-width="1.0"/>
<polyline points="44.00,253.17 44.99,238.16 45.22,242.58 45.92,253.28 46.31,249.56 46.93,242.03 47.52,250.87 47.89,255.34 48.60,247.83 49.04,242.35 49.85,246.93 49.90,246.19 50.62,242.06 51.02,239.25 51.58,259.73 51.65,261.65 52.40,249.24 52.93,239.52 53.55,244.57 53.96,247.61 54.43,242.23 54.57,240.07 55.21,248.31 55.53,245.86 55.98,243.22 56.62,249.21 56.90,253.09 57.33,247.80 58.09,240.52 58.40,243.98 59.14,253.86 59.30,251.40 60.15,241.77 60.20,240.55 61.00,262.10 61.23,257.48 62.30,239.32 62.31,238.70 63.14,248.11 63.39,249.96 64.15,241.71 64.27,244.26 64.80,258.52 65.01,253.12 65.68,238.77 65.75,240.23 66.55,261.78 66.98,254.67 67.75,243.23 68.24,254.05 68.49,260.75 69.42,237.87 69.50,239.30 70.20,245.64 70.50,247.36 70.89,246.96 71.77,246.49 72.57,243.21 72.77,244.17 73.77,242.10 74.25,241.96 74.51,241.58 75.46,242.56 75.93,242.46 76.51,244.41 77.61,243.53 77.81,244.96 78.55,245.66 79.29,247.39 79.64,246.87 80.37,248.19 80.97,247.88 81.65,249.16 82.47,248.87 82.66,249.81 83.59,248.40 84.34,248.76 84.67,248.00 85.49,249.14 86.02,247.76 86.47,247.57 87.42,246.30 87.70,247.18 88.23,245.22 89.17,245.67 89.38,244.43 89.91,245.21 91.03,243.98 91.06,245.36 92.31,243.24 92.74,243.66 93.34,244.01 94.28,245.04 94.42,244.06 95.29,246.69 96.07,245.80 96.10,246.15 97.22,245.85 97.78,246.85 98.33,245.90 99.09,248.05 99.46,246.22 100.02,248.22 100.79,246.89 101.14,248.85 101.92,247.65 102.62,249.15 103.85,248.56 104.00,249.03 104.35,248.14 105.04,248.36 105.31,247.31 106.46,247.34 106.72,246.64 107.46,246.92 108.26,245.91 108.40,246.10 109.12,245.64 110.08,245.41 110.15,244.92 111.25,245.22 111.76,244.15 112.33,244.70 113.45,243.64 113.48,243.98 114.39,243.42 115.13,243.58 115.56,242.79 116.61,243.04 116.81,242.44 117.46,242.61 118.23,241.89 118.49,241.99 119.31,241.31 120.17,241.40 120.52,240.83 121.79,240.80 121.85,240.21 122.98,240.08 123.53,239.22 124.17,239.61 125.21,238.41 125.22,238.54 126.07,237.81 126.89,237.92 126.95,237.38 128.17,238.73 128.57,238.34 129.03,239.39 130.02,239.69 130.25,240.41 131.05,240.93 131.76,242.11 131.93,241.65 132.53,242.51 133.35,243.24 133.61,243.83 134.53,243.72 135.29,244.22 135.70,243.46 136.45,243.28 136.97,242.42 137.25,242.98 138.54,241.61 138.66,241.91 139.34,240.93 140.34,241.41 140.52,240.69 141.57,241.56 142.02,241.46 142.79,242.29 143.70,242.63 143.94,242.95 144.69,243.12 145.38,243.87 145.86,243.47 146.99,244.84 147.06,244.40 147.71,245.20 148.74,244.98 148.97,245.53 149.85,245.80 150.42,246.61 150.83,246.16 151.84,246.67 152.10,246.47 152.88,247.23 153.78,246.54 153.92,247.51 154.66,246.75 155.46,247.78 155.87,247.07 156.88,247.30 157.14,247.17 157.64,247.44 158.65,247.49 159.46,247.76 160.00,247.64 160.42,247.47 161.04,246.81 161.55,247.34 162.70,246.50 162.72,246.90 163.50,246.01 164.37,246.11 164.40,245.79 165.65,246.04 166.08,245.58 166.73,245.86 167.54,244.67 167.76,244.98 168.61,244.01 169.45,244.25 169.46,243.63 170.20,243.51 171.13,242.72 171.29,243.07 172.06,241.96 172.81,242.00 172.85,241.87 173.95,242.01 174.49,241.43 175.23,241.54 175.97,240.74 176.17,241.39 177.12,241.00 177.85,241.47 177.91,240.75 178.65,241.39 179.35,240.65 179.53,241.34 180.07,240.94 181.21,241.59 181.21,241.43 182.45,242.23 182.89,242.05 183.16,242.69 183.95,242.81 184.57,243.65 184.68,243.29 185.62,244.12 186.25,244.17 186.51,244.69 187.33,245.35 187.93,246.58 188.52,246.19 189.28,247.26 189.61,247.20 190.36,248.17 191.15,247.82 191.29,248.33 192.24,248.48 192.97,249.28 193.02,248.67 193.83,249.33 194.66,249.11 195.13,249.96 195.99,249.52 196.00,250.62 196.34,249.58 196.84,250.59 197.55,250.03 198.02,250.51 198.37,250.16 199.19,251.18 199.70,250.30 199.82,250.85 200.79,250.12 201.74,251.04 202.67,250.08 203.06,251.15 203.27,250.25 203.95,251.04 204.87,250.35 205.81,251.43 206.42,250.76 206.67,251.49 207.68,251.03 208.44,251.58 209.11,251.33 209.78,251.97 209.90,251.23 210.60,251.85 211.35,251.68 212.28,252.40 213.00,251.70 213.14,252.68 213.90,251.70 214.74,251.78 215.31,250.76 216.00,251.37 216.96,250.53 217.04,250.89 217.61,250.38 218.43,250.36 218.72,250.27 219.33,250.29 220.34,249.67 220.40,250.05 221.32,249.58 221.95,249.77 222.08,249.21 222.86,249.55 223.62,248.88 223.76,249.12 224.26,248.85 225.04,249.09 225.45,248.48 226.06,248.64 226.62,248.31 227.13,248.52 227.52,248.15 228.34,248.20 228.81,247.90 229.32,247.98 230.11,247.63 230.49,247.94 230.79,247.74 231.76,248.21 232.17,247.75 232.37,247.94 233.26,247.45 233.85,247.47 233.96,247.41 234.55,248.15 235.19,248.13 235.53,248.74 236.16,252.87 236.37,254.95 236.79,257.80 236.87,258.92 237.38,255.26 237.79,253.13 238.05,250.81 238.42,250.13 238.89,248.32 239.43,248.37 240.01,247.55 240.57,247.28 240.89,247.06 241.71,246.93 242.25,246.53 242.55,246.92 243.56,245.87 243.93,246.25 244.23,245.81 245.26,246.24 245.61,245.89 246.10,246.19 247.05,245.77 247.29,246.35 247.73,246.10 248.76,247.22 248.97,246.75 249.67,247.53 250.46,247.42 250.66,248.01 251.12,247.80 252.10,248.65 252.34,248.56 252.93,249.02 253.97,249.09 254.02,249.75 254.95,249.91 255.70,250.39 255.87,250.18 256.78,251.09 257.38,250.79 257.42,251.61 258.38,251.61 259.06,252.38 259.28,251.74 259.89,252.76 260.48,252.35 260.74,253.01 261.09,252.11 261.58,251.98 261.75,251.95 262.00,254.50 262.42,253.35 262.81,255.75 263.91,255.61 264.10,258.21 265.03,256.78 265.78,259.68 265.95,258.38 267.00,262.33 267.46,260.15 268.02,263.17 268.93,262.48 269.14,263.21 269.80,263.11 270.82,265.88 270.94,265.06 272.00,271.17 272.08,270.04 272.42,276.48 272.92,268.98 272.94,270.42 273.76,265.84 274.10,270.10 274.61,269.89 274.81,269.75 275.45,266.49 275.86,276.47 275.95,275.65 276.45,269.96 276.79,267.10 277.13,266.73 277.59,265.00 278.29,265.16 278.81,263.09 279.23,264.57 280.33,259.95 280.49,261.34 281.06,258.71 282.17,260.37 282.17,257.90 283.33,257.86 283.85,253.76 284.07,256.22 285.00,252.85 285.53,253.82 285.89,250.95 286.70,251.48 287.21,249.38 287.40,250.13 288.17,249.34 288.89,250.79 289.31,248.64 290.00,249.71 290.57,248.34 291.25,249.55 292.25,248.46 292.49,248.80 293.62,248.14 293.93,249.01 294.63,248.39 295.61,248.92 295.72,247.94 296.62,249.43 297.29,247.78 297.60,248.82 298.63,247.72 298.97,248.75 299.58,247.92 300.55,248.38 300.66,247.52 301.76,249.15 302.34,247.52 303.05,248.28 304.02,247.21 304.19,249.02 305.41,248.12 305.70,248.80 306.29,248.45 307.04,249.54 307.38,248.51 307.87,250.08 308.87,249.29 309.06,250.97 310.03,251.02 310.74,252.85 311.17,252.79 311.58,253.78 312.42,251.71 312.42,252.35 313.26,248.55 313.59,250.35 314.10,251.36 314.47,253.47 314.94,254.12" stroke="#000000" stroke-width="1.0"/>
<polyline points="44.00,265.52 44.79,263.96 44.84,267.60 45.30,262.26 45.68,265.76 45.85,261.67 46.69,267.09 47.36,262.64 47.55,267.41 48.37,263.42 48.93,265.42 49.04,262.78 49.71,266.12 50.23,262.84 50.72,265.78 51.01,263.68 51.59,265.76 52.40,261.57 52.43,265.02 53.28,262.29 53.96,266.20 54.08,262.28 54.76,265.92 55.64,261.70 55.76,264.24 56.51,260.56 57.27,263.55 57.45,261.49 58.02,263.60 58.66,260.42 59.13,264.05 59.44,261.43 59.99,264.55 60.67,261.55 60.81,265.52 61.19,262.96 61.72,266.51 62.49,263.90 62.49,266.66 63.16,265.51 63.74,269.99 64.17,266.62 64.63,271.71 65.01,268.49 65.24,270.96 65.85,267.86 65.96,270.51 66.65,270.02 66.69,273.30 67.22,269.21 67.53,270.86 68.13,267.62 68.94,269.43 69.21,264.27 69.80,266.51 70.00,265.12 70.82,264.21 70.89,263.38 71.89,261.68 72.57,259.71 72.69,260.46 73.48,258.32 74.25,257.50 74.31,256.72 75.58,256.39 75.93,255.92 76.82,255.88 77.58,255.14 77.61,256.00 78.63,256.55 79.29,257.85 79.57,258.14 80.29,260.46 80.97,261.80 81.14,262.69 82.23,263.92 82.66,265.19 82.94,265.45 84.22,266.92 84.34,266.79 85.09,266.93 86.00,265.65 86.02,266.34 87.27,264.74 87.70,264.97 88.05,264.47 88.83,264.16 89.38,263.30 89.81,263.17 90.70,261.78 91.06,262.26 91.59,261.04 92.64,260.04 92.74,259.67 93.58,259.52 93.91,259.34 94.42,260.59 94.86,260.39 95.59,261.93 96.10,262.56 96.51,263.29 97.72,263.87 97.78,264.60 98.68,264.48 99.42,265.64 99.46,264.97 100.27,265.56 101.11,265.17 101.14,265.89 102.02,264.98 102.91,265.46 104.00,264.90 104.40,265.13 105.04,264.34 105.26,264.68 106.39,263.48 106.72,263.75 107.63,262.65 108.40,262.17 108.56,261.80 109.69,261.35 110.08,260.66 110.59,260.52 111.76,259.01 111.89,259.02 112.77,257.70 113.45,257.30 113.49,256.83 114.19,256.76 115.13,255.48 115.22,255.85 116.30,255.88 116.81,256.33 117.17,255.68 118.11,255.38 118.49,254.95 119.06,254.64 119.98,253.74 120.17,253.98 120.79,253.15 121.82,252.93 121.85,252.70 122.92,252.85 123.53,252.04 123.64,252.38 124.86,251.78 125.21,252.00 125.72,251.80 126.70,252.40 126.89,252.04 127.53,252.52 128.57,252.62 128.64,253.22 129.58,253.09 130.25,253.88 130.63,253.99 131.58,255.07 131.93,255.07 132.58,256.33 133.33,256.67 133.61,257.15 134.62,257.85 135.29,258.82 135.58,258.78 136.48,259.64 136.97,259.51 137.68,259.44 138.56,258.63 138.66,258.89 139.74,257.59 140.34,257.65 140.69,256.89 141.46,256.57 142.02,255.95 142.50,256.25 143.37,255.50 143.70,255.43 144.19,255.03 145.38,255.35 145.49,254.89 146.75,255.90 147.06,255.65 147.73,255.98 148.74,255.95 148.92,256.67 150.02,257.39 150.42,258.08 150.90,258.21 151.68,259.41 152.10,259.43 152.73,260.29 153.54,260.76 153.78,261.50 154.69,261.76 155.46,262.68 155.75,262.49 156.58,263.27 157.14,263.35 157.75,263.79 159.03,264.06 160.00,264.62 160.02,264.50 161.04,265.31 161.30,264.95 162.27,264.76 162.72,264.08 162.98,264.49 163.96,263.38 164.40,263.21 164.87,262.85 166.08,262.50 166.12,261.90 167.13,261.70 167.76,260.71 168.41,260.68 169.21,259.91 169.45,259.83 170.14,259.12 170.85,258.98 171.13,258.42 171.58,258.26 172.70,257.16 172.81,257.19 173.42,256.70 174.26,256.78 174.49,256.16 175.22,256.12 176.17,255.36 176.47,255.38 177.31,255.14 177.85,255.10 178.01,255.05 179.13,254.87 179.53,254.60 180.25,255.08 181.03,254.80 181.21,255.28 182.29,255.28 182.89,255.48 183.51,255.60 184.57,256.82 184.77,256.42 185.97,257.92 186.25,258.01 187.00,259.03 187.93,259.67 188.12,260.03 188.89,260.42 189.61,260.98 189.98,260.90 190.89,261.99 191.29,261.53 191.79,262.21 192.68,262.31 192.97,262.73 193.43,262.75 194.61,263.14 194.66,263.06 195.77,263.69 196.34,263.34 196.48,263.61 197.49,263.58 198.02,264.04 198.20,263.77 199.23,264.00 199.70,263.56 200.03,264.10 201.30,264.03 201.38,264.62 202.19,264.54 203.06,265.20 203.21,264.67 204.07,265.21 204.74,265.12 205.31,265.55 206.01,265.37 206.42,265.69 206.90,265.60 207.73,266.06 208.10,265.74 208.88,266.48 209.78,266.37 209.80,266.76 211.02,266.58 211.46,267.09 211.91,266.54 212.69,266.32 213.14,265.84 213.66,266.02 214.41,264.87 214.82,265.03 215.21,264.87 216.00,265.60 216.87,265.43 217.04,265.85 217.75,264.98 218.63,265.86 218.72,265.12 219.19,265.31 219.75,264.93 220.28,265.59 220.40,264.70 220.80,265.16 221.59,264.87 222.08,265.17 222.10,264.44 222.78,264.85 223.42,264.65 223.76,265.33 224.22,264.49 224.73,264.67 225.45,264.29 225.52,264.84 226.41,263.79 227.03,264.23 227.13,263.49 227.69,264.36 228.49,263.63 228.81,264.08 229.11,263.46 229.95,264.22 230.49,263.95 230.86,264.84 231.44,264.55 232.13,265.33 232.17,264.71 232.68,265.64 233.41,265.63 233.85,266.05 234.06,265.70 234.69,267.09" stroke="#0000ff" stroke-width="1.2"/>
<polyline points="44.00,286.50 45.03,272.61 45.20,285.35 45.69,278.06 46.41,288.79 46.67,278.44 47.61,277.07 47.67,272.99 48.38,286.48 48.82,285.77 49.18,290.68 50.02,276.63 50.06,285.33 50.83,277.88 51.23,291.89 51.51,279.79 52.23,287.52 52.43,274.89 53.10,292.58 53.64,288.08 53.74,295.84 54.80,276.32 54.84,285.40 55.65,282.29 56.05,290.27 56.43,280.76 57.20,283.87 57.25,276.61 58.00,287.65 58.46,284.25 58.95,289.89 59.66,274.77 59.97,284.66 60.83,270.43 60.87,281.05 61.85,276.50 62.07,287.38 62.79,274.23 63.28,282.12 63.86,276.94 64.48,287.93 64.88,280.30 65.69,284.06 65.92,275.40 66.57,289.32 66.89,279.08 67.39,285.02 68.08,277.37 68.10,283.89 69.16,281.14 69.30,292.14 69.87,277.60 70.51,282.99 71.00,273.06 71.71,280.85 71.82,273.94 72.53,281.92 73.54,274.98 74.00,277.67 74.25,275.57 75.21,276.40 75.93,275.01 76.00,275.33 76.86,274.55 77.57,275.13 77.61,274.91 78.82,277.01 79.29,275.43 80.04,278.06 80.97,277.48 80.99,278.79 82.19,278.22 82.66,280.27 83.23,283.45 83.50,285.69 84.34,279.95 84.49,280.79 85.73,279.08 86.02,279.70 86.63,279.56 87.50,280.22 87.70,279.93 88.45,280.82 89.38,280.92 89.72,280.82 90.70,279.04 91.06,279.75 91.62,278.43 92.33,278.93 92.74,277.74 93.26,278.22 94.42,276.20 94.52,277.34 95.47,277.41 96.10,279.56 96.65,278.38 97.78,279.92 97.88,279.04 99.15,281.00 99.46,279.90 100.29,281.91 101.14,280.96 101.28,282.67 102.17,281.65 103.43,282.74 104.10,282.74 104.78,281.78 105.04,280.90 105.80,280.41 106.72,279.32 106.73,279.54 107.54,278.66 108.40,278.40 108.59,277.82 109.37,277.74 110.08,277.12 110.17,277.68 111.12,276.51 111.76,276.83 112.42,275.81 113.35,276.18 113.45,275.35 114.63,275.31 115.13,274.83 115.73,274.97 116.81,273.88 116.82,274.29 118.07,273.31 118.49,273.35 119.11,272.60 120.17,272.46 120.26,272.13 121.01,271.64 121.24,271.32 121.85,272.12 122.42,271.28 123.53,271.42 123.64,270.99 124.34,270.85 125.21,269.96 125.61,270.16 126.33,269.60 126.89,269.97 127.41,269.39 128.15,270.14 128.57,269.69 129.31,270.76 130.25,270.45 130.27,270.57 131.05,270.75 131.93,271.97 132.25,271.43 133.10,272.44 133.61,272.66 134.34,273.75 135.27,274.27 135.29,274.49 136.31,274.86 136.97,275.28 137.28,274.83 138.43,274.17 138.66,273.90 139.34,273.28 140.34,271.93 140.35,272.60 141.19,271.48 142.02,271.53 142.09,271.01 142.86,271.05 143.70,270.15 143.72,270.58 144.58,270.75 145.38,271.34 145.70,271.06 146.48,271.64 147.06,271.54 147.28,272.54 148.56,272.85 148.74,273.49 149.65,273.64 150.40,274.70 150.42,274.17 151.62,275.44 152.10,275.25 152.77,276.30 153.78,276.50 153.84,276.97 155.11,276.80 155.46,277.57 156.13,277.33 156.92,278.03 157.14,277.48 157.62,277.80 158.38,277.18 159.36,277.63 160.00,277.09 160.39,277.14 161.04,275.77 161.59,276.09 162.33,275.76 162.72,276.05 163.07,275.71 163.83,275.91 164.40,275.53 164.75,275.71 166.01,275.43 166.08,276.13 167.18,275.11 167.76,275.42 167.91,275.01 168.96,275.80 169.45,275.59 169.77,275.72 170.60,274.83 171.13,275.40 171.50,274.21 172.34,273.95 172.81,273.36 173.22,273.47 174.06,272.38 174.49,272.72 174.96,271.71 176.02,271.48 176.17,270.73 177.06,271.31 177.85,270.30 178.19,270.79 179.06,270.26 179.53,270.44 179.78,270.13 180.82,270.67 181.21,269.93 181.71,270.39 182.53,270.23 182.89,271.07 183.48,270.54 184.57,271.78 184.75,271.58 185.81,273.11 186.25,273.06 186.94,274.64 187.66,274.57 187.93,275.79 188.69,275.74 189.61,277.33 189.81,277.03 191.03,278.62 191.29,278.50 192.18,279.42 192.91,279.26 192.97,279.58 194.21,279.41 194.66,280.07 194.92,280.11 196.00,281.21 196.34,280.67 196.75,282.36 197.18,282.06 197.79,281.41 198.02,280.55 198.54,281.06 199.49,279.62 199.70,280.13 200.29,279.41 201.02,280.28 201.38,279.25 201.98,279.64 202.99,279.04 203.06,279.95 203.55,279.08 204.40,279.05 204.74,278.77 205.32,279.40 206.13,278.57 206.42,279.00 206.88,278.09 207.78,278.62 208.10,278.21 208.42,278.72 209.21,277.56 209.78,278.26 209.86,277.24 210.84,277.75 211.46,276.98 211.78,277.72 212.53,277.11 213.14,278.04 213.46,277.96 214.28,279.21 214.82,278.99 215.16,279.79 215.83,278.58 216.00,279.05 216.74,277.59 217.04,277.98 217.50,277.30 218.37,277.79 218.72,277.01 219.18,277.23 220.06,276.74 220.40,277.12 221.00,276.28 222.02,276.61 222.08,275.73 222.88,276.37 223.64,275.32 223.76,276.02 224.44,275.11 225.17,275.87 225.45,274.87 226.13,275.64 226.95,274.82 227.13,275.47 227.85,274.66 228.80,274.52 228.81,274.05 229.69,274.47 230.49,273.51 230.68,274.11 231.46,273.88 232.17,274.00 232.35,273.50 233.34,274.16 233.85,273.39 234.13,274.10 235.08,274.17 235.53,274.97 235.78,277.03 236.37,283.78 236.41,283.98 236.87,289.82 237.38,283.59 237.55,282.41 238.21,279.00 238.89,276.57 239.23,275.51 240.08,274.79 240.57,273.53 240.76,274.22 241.38,273.04 242.25,273.21 242.37,272.49 243.05,272.54 243.69,271.79 243.93,272.40 244.50,271.70 245.41,272.02 245.61,271.36 246.25,272.25 246.83,271.50 247.29,272.44 247.76,271.95 248.65,272.84 248.97,272.63 249.36,273.05 250.37,273.30 250.66,273.70 251.16,273.56 252.09,274.63 252.34,274.10 252.70,275.04 253.40,274.54 254.02,275.57 254.33,275.15 255.21,276.17 255.70,275.89 256.11,276.59 257.00,276.88 257.38,277.47 257.58,277.17 258.55,278.24 259.06,278.05 259.13,278.73 259.80,278.38 260.51,279.64 260.74,279.04 261.31,279.93 261.92,279.79 262.00,281.92 262.42,278.69 262.90,282.39 263.69,280.36 264.10,284.54 264.59,281.94 265.32,286.41 265.78,283.35 266.29,287.28 266.99,285.71 267.46,290.36 267.86,287.26 268.30,291.37 268.52,287.87 269.14,291.02 269.44,288.01 269.98,292.97 270.12,290.11 270.82,291.21 271.19,289.16 271.83,293.18 272.08,291.18 272.90,292.55 272.92,289.09 273.69,293.36 273.76,291.19 274.84,292.27 275.45,289.33 275.64,292.53 276.35,288.02 277.13,291.83 277.35,286.87 278.11,290.65 278.81,287.50 279.18,289.76 279.65,285.59 280.06,293.75 280.15,291.80 280.82,286.84 280.84,284.07 281.79,284.34 282.17,278.63 282.54,281.85 283.01,277.76 283.31,281.99 283.85,278.96 283.99,282.16 284.69,277.35 284.74,280.48 285.49,275.66 285.53,278.62 286.21,274.33 287.06,277.19 287.21,272.70 287.93,276.52 288.88,273.75 288.89,276.44 289.81,272.50 290.57,277.25 290.81,273.95 291.77,275.65 292.00,274.26 292.25,275.50 292.73,273.73 293.52,274.64 293.93,273.64 294.39,275.49 295.11,273.26 295.61,274.39 296.11,273.01 297.29,273.94 297.32,272.65 298.45,273.54 298.97,272.85 299.45,273.52 300.66,271.93 300.74,273.78 301.62,271.92 302.34,272.98 302.51,272.05 303.37,273.67 304.02,273.19 304.43,274.33 305.41,272.58 305.70,274.21 306.19,273.36 307.18,275.13 307.38,274.04 308.46,276.25 309.06,275.04 309.69,276.56 310.74,276.26 310.76,278.02 311.58,278.31 311.98,277.98 312.42,276.26 312.97,276.01 313.26,274.44 313.97,277.41 314.10,276.91 314.94,280.59" stroke="#000000" stroke-width="1.0"/>
</g>
<rect x="44.5" y="0.5" width="271" height="297.7" fill="none" stroke="#4a4a4a" stroke-width="1.1"/>
<line x1="71.23" y1="298" x2="71.23" y2="295.5" stroke="#666" stroke-width="0.8"/>
<line x1="71.23" y1="0" x2="71.23" y2="2.5" stroke="#666" stroke-width="0.8"/>
<line x1="98.37" y1="298" x2="98.37" y2="294" stroke="#666" stroke-width="0.8"/>
<line x1="98.37" y1="0" x2="98.37" y2="4" stroke="#666" stroke-width="0.8"/>
<line x1="125.50" y1="298" x2="125.50" y2="295.5" stroke="#666" stroke-width="0.8"/>
<line x1="125.50" y1="0" x2="125.50" y2="2.5" stroke="#666" stroke-width="0.8"/>
<line x1="152.64" y1="298" x2="152.64" y2="294" stroke="#666" stroke-width="0.8"/>
<line x1="152.64" y1="0" x2="152.64" y2="4" stroke="#666" stroke-width="0.8"/>
<line x1="179.77" y1="298" x2="179.77" y2="295.5" stroke="#666" stroke-width="0.8"/>
<line x1="179.77" y1="0" x2="179.77" y2="2.5" stroke="#666" stroke-width="0.8"/>
<line x1="206.91" y1="298" x2="206.91" y2="294" stroke="#666" stroke-width="0.8"/>
<line x1="206.91" y1="0" x2="206.91" y2="4" stroke="#666" stroke-width="0.8"/>
<line x1="234.04" y1="298" x2="234.04" y2="295.5" stroke="#666" stroke-width="0.8"/>
<line x1="234.04" y1="0" x2="234.04" y2="2.5" stroke="#666" stroke-width="0.8"/>
<line x1="261.18" y1="298" x2="261.18" y2="294" stroke="#666" stroke-width="0.8"/>
<line x1="261.18" y1="0" x2="261.18" y2="4" stroke="#666" stroke-width="0.8"/>
<line x1="288.31" y1="298" x2="288.31" y2="295.5" stroke="#666" stroke-width="0.8"/>
<line x1="288.31" y1="0" x2="288.31" y2="2.5" stroke="#666" stroke-width="0.8"/>
<line x1="44.5" y1="281.14" x2="48.5" y2="281.14" stroke="#888" stroke-width="0.8"/>
<line x1="311" y1="281.14" x2="315" y2="281.14" stroke="#888" stroke-width="0.8"/>
<line x1="44.5" y1="259.22" x2="48.5" y2="259.22" stroke="#888" stroke-width="0.8"/>
<line x1="311" y1="259.22" x2="315" y2="259.22" stroke="#888" stroke-width="0.8"/>
<line x1="44.5" y1="237.30" x2="48.5" y2="237.30" stroke="#888" stroke-width="0.8"/>
<line x1="311" y1="237.30" x2="315" y2="237.30" stroke="#888" stroke-width="0.8"/>
<line x1="44.5" y1="215.38" x2="48.5" y2="215.38" stroke="#888" stroke-width="0.8"/>
<line x1="311" y1="215.38" x2="315" y2="215.38" stroke="#888" stroke-width="0.8"/>
<line x1="44.5" y1="193.46" x2="48.5" y2="193.46" stroke="#888" stroke-width="0.8"/>
<line x1="311" y1="193.46" x2="315" y2="193.46" stroke="#888" stroke-width="0.8"/>
<line x1="44.5" y1="171.54" x2="48.5" y2="171.54" stroke="#888" stroke-width="0.8"/>
<line x1="311" y1="171.54" x2="315" y2="171.54" stroke="#888" stroke-width="0.8"/>
<line x1="44.5" y1="149.62" x2="48.5" y2="149.62" stroke="#888" stroke-width="0.8"/>
<line x1="311" y1="149.62" x2="315" y2="149.62" stroke="#888" stroke-width="0.8"/>
<line x1="44.5" y1="127.70" x2="48.5" y2="127.70" stroke="#888" stroke-width="0.8"/>
<line x1="311" y1="127.70" x2="315" y2="127.70" stroke="#888" stroke-width="0.8"/>
<line x1="44.5" y1="105.78" x2="48.5" y2="105.78" stroke="#888" stroke-width="0.8"/>
<line x1="311" y1="105.78" x2="315" y2="105.78" stroke="#888" stroke-width="0.8"/>
<line x1="44.5" y1="83.86" x2="48.5" y2="83.86" stroke="#888" stroke-width="0.8"/>
<line x1="311" y1="83.86" x2="315" y2="83.86" stroke="#888" stroke-width="0.8"/>
<line x1="44.5" y1="61.94" x2="48.5" y2="61.94" stroke="#888" stroke-width="0.8"/>
<line x1="311" y1="61.94" x2="315" y2="61.94" stroke="#888" stroke-width="0.8"/>
<line x1="44.5" y1="40.02" x2="48.5" y2="40.02" stroke="#888" stroke-width="0.8"/>
<line x1="311" y1="40.02" x2="315" y2="40.02" stroke="#888" stroke-width="0.8"/>
<line x1="44.5" y1="18.10" x2="48.5" y2="18.10" stroke="#888" stroke-width="0.8"/>
<line x1="311" y1="18.10" x2="315" y2="18.10" stroke="#888" stroke-width="0.8"/>
<g font-family="Liberation Sans, sans-serif" font-size="11">
<text x="37.5" y="285.04" text-anchor="end">−2</text>
<text x="37.5" y="263.12" text-anchor="end">−1</text>
<text x="37.5" y="241.20" text-anchor="end">0</text>
<text x="37.5" y="219.28" text-anchor="end">1</text>
<text x="37.5" y="197.36" text-anchor="end">2</text>
<text x="37.5" y="175.44" text-anchor="end">3</text>
<text x="37.5" y="153.52" text-anchor="end">4</text>
<text x="37.5" y="131.60" text-anchor="end">5</text>
<text x="37.5" y="109.68" text-anchor="end">6</text>
<text x="37.5" y="87.76" text-anchor="end">7</text>
<text x="37.5" y="65.84" text-anchor="end">8</text>
<text x="37.5" y="43.92" text-anchor="end">9</text>
<text x="37.5" y="22.00" text-anchor="end">10</text>
<text x="45.60" y="314.1" text-anchor="middle">4000</text>
<text x="99.87" y="314.1" text-anchor="middle">5000</text>
<text x="154.14" y="314.1" text-anchor="middle">6000</text>
<text x="208.41" y="314.1" text-anchor="middle">7000</text>
<text x="262.68" y="314.1" text-anchor="middle">8000</text>
<text x="316.95" y="314.1" text-anchor="middle">9000</text>
<text x="180" y="329.7" text-anchor="middle">Rest Wavelength(Å)</text>
<text transform="translate(8.4,149.8) rotate(-90)" text-anchor="middle">Log (F<tspan font-size="8" dy="2.5">λ</tspan><tspan dy="-2.5">) + Const.</tspan></text>
<text x="250.6" y="33" fill="#00f">2002bo</text>
<text x="239.4" y="47.4" fill="#000">2019ein</text>
<text x="321" y="33.00" fill="#00f">−12.9 d</text>
<text x="321" y="49.70" fill="#000">−11.5 d</text>
<text x="321" y="65.90" fill="#000">−9.5 d</text>
<text x="321" y="79.00" fill="#000">−8.6 d</text>
<text x="321" y="92.50" fill="#000">−5.6 d</text>
<text x="321" y="109.50" fill="#00f">−4.1 d</text>
<text x="321" y="123.50" fill="#000">−3.6 d</text>
<text x="321" y="136.30" fill="#000">−2.6 d</text>
<text x="321" y="150.80" fill="#00f">−1.0 d</text>
<text x="321" y="162.20" fill="#000">−0.6 d</text>
<text x="321" y="175.40" fill="#00f">5.9 d</text>
<text x="321" y="188.20" fill="#000">6.4 d</text>
<text x="321" y="199.10" fill="#000">14.2 d</text>
<text x="321" y="214.30" fill="#00f">24.3 d</text>
<text x="321" y="227.40" fill="#000">27.4 d</text>
<text x="321" y="240.60" fill="#000">28.4 d</text>
<text x="321" y="258.90" fill="#000">35.3 d</text>
<text x="321" y="272.50" fill="#00f">39.9 d</text>
<text x="321" y="285.00" fill="#000">41.4 d</text>
</g>
</svg></body></html>
